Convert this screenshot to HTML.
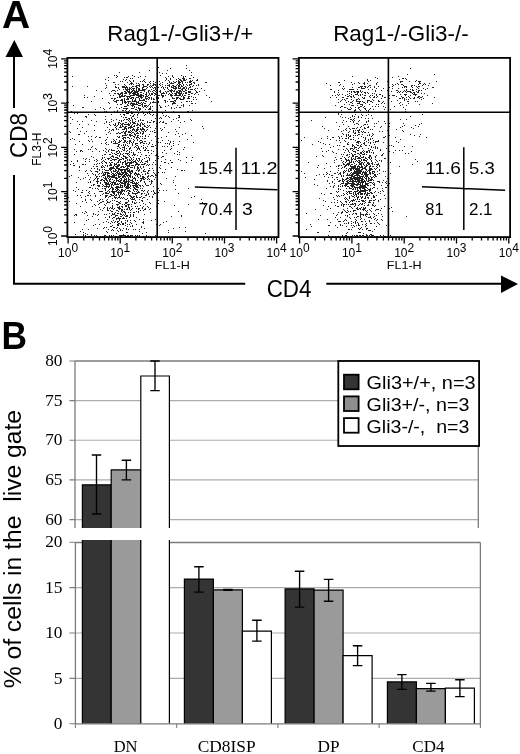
<!DOCTYPE html>
<html><head><meta charset="utf-8"><title>Figure</title>
<style>html,body{margin:0;padding:0;background:#fff;width:520px;height:754px;overflow:hidden}svg{display:block;will-change:transform}</style>
</head><body>
<svg width="520" height="754" viewBox="0 0 520 754">
<rect width="520" height="754" fill="#fff"/>
<path d="M68 102h1v1h-1zM68 197h1v1h-1zM69 131h1v1h-1zM69 176h1v1h-1zM69 201h1v1h-1zM70 117h1v1h-1zM70 123h1v1h-1zM70 132h1v1h-1zM70 139h1v1h-1zM70 164h1v1h-1zM71 111h1v1h-1zM71 161h1v1h-1zM71 175h1v1h-1zM72 76h1v1h-1zM72 86h1v1h-1zM72 119h1v1h-1zM72 138h1v1h-1zM73 105h1v1h-1zM73 163h1v1h-1zM73 165h1v1h-1zM73 190h1v1h-1zM74 113h1v1h-1zM74 139h1v1h-1zM74 149h1v1h-1zM74 154h1v1h-1zM74 165h1v1h-1zM74 215h1v1h-1zM74 222h1v1h-1zM75 144h1v1h-1zM75 191h1v1h-1zM75 214h1v1h-1zM75 234h1v1h-1zM76 151h1v1h-1zM76 182h1v1h-1zM76 187h1v1h-1zM76 203h1v1h-1zM76 214h1v1h-1zM76 215h1v1h-1zM77 113h1v1h-1zM77 121h1v1h-1zM77 128h1v1h-1zM77 160h1v1h-1zM77 161h1v1h-1zM77 195h1v1h-1zM78 134h1v1h-1zM78 177h1v1h-1zM78 189h1v1h-1zM79 124h1v1h-1zM79 134h1v1h-1zM79 141h1v1h-1zM79 166h1v1h-1zM79 167h1v1h-1zM79 170h1v1h-1zM80 131h1v1h-1zM80 150h1v1h-1zM80 151h1v1h-1zM80 179h1v1h-1zM80 195h1v1h-1zM80 206h1v1h-1zM80 231h1v1h-1zM81 150h1v1h-1zM81 192h1v1h-1zM81 197h1v1h-1zM82 107h1v1h-1zM82 121h1v1h-1zM82 127h1v1h-1zM82 144h1v1h-1zM82 151h1v1h-1zM82 164h1v1h-1zM82 190h1v1h-1zM82 192h1v1h-1zM82 201h1v1h-1zM82 212h1v1h-1zM82 229h1v1h-1zM83 107h1v1h-1zM83 158h1v1h-1zM83 164h1v1h-1zM83 178h1v1h-1zM83 232h1v1h-1zM83 234h1v1h-1zM83 235h1v1h-1zM84 95h1v1h-1zM84 97h1v1h-1zM84 133h1v1h-1zM84 213h1v1h-1zM84 224h1v1h-1zM85 116h1v1h-1zM85 159h1v1h-1zM85 161h1v1h-1zM85 164h1v1h-1zM85 171h1v1h-1zM85 177h1v1h-1zM85 196h1v1h-1zM85 199h1v1h-1zM85 200h1v1h-1zM85 211h1v1h-1zM85 233h1v1h-1zM85 235h1v1h-1zM85 236h1v1h-1zM86 116h1v1h-1zM86 117h1v1h-1zM86 131h1v1h-1zM86 158h1v1h-1zM86 170h1v1h-1zM86 190h1v1h-1zM86 202h1v1h-1zM86 212h1v1h-1zM86 220h1v1h-1zM87 86h1v1h-1zM87 97h1v1h-1zM87 173h1v1h-1zM87 195h1v1h-1zM87 215h1v1h-1zM87 234h1v1h-1zM88 114h1v1h-1zM88 124h1v1h-1zM88 136h1v1h-1zM88 140h1v1h-1zM88 149h1v1h-1zM88 175h1v1h-1zM88 182h1v1h-1zM88 192h1v1h-1zM88 195h1v1h-1zM88 219h1v1h-1zM88 229h1v1h-1zM88 236h1v1h-1zM89 141h1v1h-1zM89 159h1v1h-1zM89 161h1v1h-1zM89 179h1v1h-1zM89 187h1v1h-1zM89 191h1v1h-1zM89 193h1v1h-1zM89 236h1v1h-1zM90 149h1v1h-1zM90 170h1v1h-1zM90 177h1v1h-1zM90 181h1v1h-1zM90 182h1v1h-1zM90 187h1v1h-1zM90 195h1v1h-1zM90 199h1v1h-1zM91 101h1v1h-1zM91 120h1v1h-1zM91 136h1v1h-1zM91 139h1v1h-1zM91 147h1v1h-1zM91 156h1v1h-1zM91 168h1v1h-1zM91 171h1v1h-1zM91 185h1v1h-1zM91 200h1v1h-1zM91 234h1v1h-1zM91 235h1v1h-1zM92 141h1v1h-1zM92 146h1v1h-1zM92 151h1v1h-1zM92 173h1v1h-1zM92 188h1v1h-1zM92 206h1v1h-1zM92 216h1v1h-1zM93 157h1v1h-1zM93 166h1v1h-1zM93 174h1v1h-1zM93 180h1v1h-1zM93 184h1v1h-1zM93 185h1v1h-1zM93 213h1v1h-1zM93 214h1v1h-1zM93 225h1v1h-1zM94 96h1v1h-1zM94 114h1v1h-1zM94 125h1v1h-1zM94 130h1v1h-1zM94 160h1v1h-1zM94 164h1v1h-1zM94 168h1v1h-1zM94 179h1v1h-1zM94 184h1v1h-1zM94 193h1v1h-1zM94 204h1v1h-1zM94 235h1v1h-1zM95 109h1v1h-1zM95 115h1v1h-1zM95 137h1v1h-1zM95 148h1v1h-1zM95 171h1v1h-1zM95 174h1v1h-1zM95 175h1v1h-1zM95 178h1v1h-1zM95 188h1v1h-1zM95 195h1v1h-1zM95 196h1v1h-1zM95 205h1v1h-1zM95 214h1v1h-1zM95 224h1v1h-1zM96 90h1v1h-1zM96 121h1v1h-1zM96 136h1v1h-1zM96 149h1v1h-1zM96 159h1v1h-1zM96 161h1v1h-1zM96 164h1v1h-1zM96 166h1v1h-1zM96 171h1v1h-1zM96 176h1v1h-1zM96 177h1v1h-1zM96 181h1v1h-1zM96 235h1v1h-1zM97 160h1v1h-1zM97 163h1v1h-1zM97 166h1v1h-1zM97 168h1v1h-1zM97 169h1v1h-1zM97 171h1v1h-1zM97 172h1v1h-1zM97 176h1v1h-1zM97 178h1v1h-1zM97 179h1v1h-1zM97 180h1v1h-1zM97 181h1v1h-1zM97 182h1v1h-1zM97 183h1v1h-1zM97 185h1v1h-1zM97 188h1v1h-1zM97 201h1v1h-1zM97 215h1v1h-1zM97 228h1v1h-1zM97 236h1v1h-1zM98 174h1v1h-1zM98 178h1v1h-1zM98 181h1v1h-1zM98 185h1v1h-1zM98 186h1v1h-1zM98 189h1v1h-1zM98 204h1v1h-1zM98 211h1v1h-1zM98 214h1v1h-1zM98 219h1v1h-1zM99 137h1v1h-1zM99 151h1v1h-1zM99 163h1v1h-1zM99 169h1v1h-1zM99 170h1v1h-1zM99 173h1v1h-1zM99 176h1v1h-1zM99 185h1v1h-1zM99 186h1v1h-1zM99 191h1v1h-1zM99 200h1v1h-1zM99 203h1v1h-1zM99 207h1v1h-1zM99 224h1v1h-1zM100 107h1v1h-1zM100 137h1v1h-1zM100 180h1v1h-1zM100 182h1v1h-1zM100 183h1v1h-1zM100 191h1v1h-1zM100 195h1v1h-1zM100 199h1v1h-1zM100 202h1v1h-1zM100 209h1v1h-1zM100 236h1v1h-1zM101 91h1v1h-1zM101 143h1v1h-1zM101 159h1v1h-1zM101 162h1v1h-1zM101 166h1v1h-1zM101 167h1v1h-1zM101 173h1v1h-1zM101 176h1v1h-1zM101 179h1v1h-1zM101 180h1v1h-1zM101 191h1v1h-1zM101 202h1v1h-1zM102 98h1v1h-1zM102 155h1v1h-1zM102 157h1v1h-1zM102 158h1v1h-1zM102 161h1v1h-1zM102 163h1v1h-1zM102 165h1v1h-1zM102 167h1v1h-1zM102 169h1v1h-1zM102 171h1v1h-1zM102 172h1v1h-1zM102 175h1v1h-1zM102 179h1v1h-1zM102 184h1v1h-1zM102 186h1v1h-1zM102 188h1v1h-1zM102 191h1v1h-1zM102 194h1v1h-1zM102 199h1v1h-1zM102 201h1v1h-1zM102 210h1v1h-1zM102 236h1v1h-1zM103 108h1v1h-1zM103 150h1v1h-1zM103 160h1v1h-1zM103 166h1v1h-1zM103 173h1v1h-1zM103 174h1v1h-1zM103 175h1v1h-1zM103 177h1v1h-1zM103 180h1v1h-1zM103 185h1v1h-1zM103 193h1v1h-1zM103 201h1v1h-1zM103 208h1v1h-1zM103 222h1v1h-1zM103 228h1v1h-1zM104 109h1v1h-1zM104 111h1v1h-1zM104 123h1v1h-1zM104 154h1v1h-1zM104 157h1v1h-1zM104 161h1v1h-1zM104 167h1v1h-1zM104 169h1v1h-1zM104 172h1v1h-1zM104 174h1v1h-1zM104 175h1v1h-1zM104 178h1v1h-1zM104 180h1v1h-1zM104 181h1v1h-1zM104 182h1v1h-1zM104 186h1v1h-1zM104 188h1v1h-1zM104 204h1v1h-1zM104 207h1v1h-1zM104 214h1v1h-1zM104 227h1v1h-1zM104 235h1v1h-1zM104 236h1v1h-1zM105 79h1v1h-1zM105 83h1v1h-1zM105 88h1v1h-1zM105 116h1v1h-1zM105 119h1v1h-1zM105 130h1v1h-1zM105 140h1v1h-1zM105 143h1v1h-1zM105 148h1v1h-1zM105 151h1v1h-1zM105 154h1v1h-1zM105 159h1v1h-1zM105 162h1v1h-1zM105 165h1v1h-1zM105 170h1v1h-1zM105 172h1v1h-1zM105 173h1v1h-1zM105 174h1v1h-1zM105 176h1v1h-1zM105 177h1v1h-1zM105 178h1v1h-1zM105 179h1v1h-1zM105 182h1v1h-1zM105 183h1v1h-1zM105 184h1v1h-1zM105 186h1v1h-1zM105 188h1v1h-1zM105 189h1v1h-1zM105 190h1v1h-1zM105 192h1v1h-1zM105 193h1v1h-1zM105 195h1v1h-1zM105 196h1v1h-1zM105 197h1v1h-1zM105 205h1v1h-1zM105 217h1v1h-1zM105 235h1v1h-1zM106 85h1v1h-1zM106 87h1v1h-1zM106 111h1v1h-1zM106 121h1v1h-1zM106 122h1v1h-1zM106 134h1v1h-1zM106 139h1v1h-1zM106 142h1v1h-1zM106 144h1v1h-1zM106 149h1v1h-1zM106 152h1v1h-1zM106 162h1v1h-1zM106 163h1v1h-1zM106 170h1v1h-1zM106 172h1v1h-1zM106 178h1v1h-1zM106 179h1v1h-1zM106 180h1v1h-1zM106 182h1v1h-1zM106 183h1v1h-1zM106 184h1v1h-1zM106 185h1v1h-1zM106 186h1v1h-1zM106 187h1v1h-1zM106 192h1v1h-1zM106 193h1v1h-1zM106 195h1v1h-1zM106 196h1v1h-1zM106 200h1v1h-1zM106 203h1v1h-1zM106 214h1v1h-1zM106 221h1v1h-1zM106 227h1v1h-1zM106 231h1v1h-1zM106 236h1v1h-1zM107 127h1v1h-1zM107 137h1v1h-1zM107 158h1v1h-1zM107 165h1v1h-1zM107 166h1v1h-1zM107 170h1v1h-1zM107 172h1v1h-1zM107 173h1v1h-1zM107 174h1v1h-1zM107 175h1v1h-1zM107 176h1v1h-1zM107 177h1v1h-1zM107 180h1v1h-1zM107 181h1v1h-1zM107 183h1v1h-1zM107 184h1v1h-1zM107 186h1v1h-1zM107 191h1v1h-1zM107 193h1v1h-1zM107 195h1v1h-1zM107 199h1v1h-1zM107 201h1v1h-1zM107 202h1v1h-1zM107 207h1v1h-1zM107 208h1v1h-1zM107 209h1v1h-1zM107 210h1v1h-1zM107 219h1v1h-1zM107 232h1v1h-1zM108 77h1v1h-1zM108 80h1v1h-1zM108 102h1v1h-1zM108 132h1v1h-1zM108 144h1v1h-1zM108 150h1v1h-1zM108 151h1v1h-1zM108 158h1v1h-1zM108 159h1v1h-1zM108 170h1v1h-1zM108 172h1v1h-1zM108 173h1v1h-1zM108 175h1v1h-1zM108 176h1v1h-1zM108 178h1v1h-1zM108 182h1v1h-1zM108 183h1v1h-1zM108 184h1v1h-1zM108 186h1v1h-1zM108 187h1v1h-1zM108 190h1v1h-1zM108 193h1v1h-1zM108 197h1v1h-1zM108 202h1v1h-1zM108 210h1v1h-1zM108 222h1v1h-1zM108 229h1v1h-1zM109 93h1v1h-1zM109 103h1v1h-1zM109 108h1v1h-1zM109 122h1v1h-1zM109 124h1v1h-1zM109 129h1v1h-1zM109 131h1v1h-1zM109 149h1v1h-1zM109 154h1v1h-1zM109 158h1v1h-1zM109 162h1v1h-1zM109 165h1v1h-1zM109 168h1v1h-1zM109 169h1v1h-1zM109 173h1v1h-1zM109 175h1v1h-1zM109 176h1v1h-1zM109 177h1v1h-1zM109 179h1v1h-1zM109 180h1v1h-1zM109 181h1v1h-1zM109 184h1v1h-1zM109 185h1v1h-1zM109 186h1v1h-1zM109 189h1v1h-1zM109 191h1v1h-1zM109 192h1v1h-1zM109 196h1v1h-1zM109 202h1v1h-1zM109 208h1v1h-1zM109 213h1v1h-1zM109 216h1v1h-1zM109 217h1v1h-1zM109 235h1v1h-1zM109 236h1v1h-1zM110 95h1v1h-1zM110 107h1v1h-1zM110 112h1v1h-1zM110 125h1v1h-1zM110 133h1v1h-1zM110 154h1v1h-1zM110 157h1v1h-1zM110 160h1v1h-1zM110 163h1v1h-1zM110 164h1v1h-1zM110 165h1v1h-1zM110 167h1v1h-1zM110 168h1v1h-1zM110 169h1v1h-1zM110 170h1v1h-1zM110 176h1v1h-1zM110 178h1v1h-1zM110 179h1v1h-1zM110 181h1v1h-1zM110 183h1v1h-1zM110 188h1v1h-1zM110 194h1v1h-1zM110 196h1v1h-1zM110 201h1v1h-1zM110 207h1v1h-1zM110 210h1v1h-1zM110 223h1v1h-1zM110 226h1v1h-1zM111 91h1v1h-1zM111 98h1v1h-1zM111 114h1v1h-1zM111 119h1v1h-1zM111 121h1v1h-1zM111 130h1v1h-1zM111 141h1v1h-1zM111 142h1v1h-1zM111 149h1v1h-1zM111 150h1v1h-1zM111 152h1v1h-1zM111 156h1v1h-1zM111 158h1v1h-1zM111 160h1v1h-1zM111 162h1v1h-1zM111 164h1v1h-1zM111 165h1v1h-1zM111 167h1v1h-1zM111 168h1v1h-1zM111 169h1v1h-1zM111 171h1v1h-1zM111 172h1v1h-1zM111 174h1v1h-1zM111 176h1v1h-1zM111 177h1v1h-1zM111 182h1v1h-1zM111 184h1v1h-1zM111 185h1v1h-1zM111 186h1v1h-1zM111 187h1v1h-1zM111 191h1v1h-1zM111 194h1v1h-1zM111 195h1v1h-1zM111 208h1v1h-1zM111 211h1v1h-1zM111 215h1v1h-1zM111 221h1v1h-1zM111 226h1v1h-1zM111 230h1v1h-1zM111 235h1v1h-1zM111 236h1v1h-1zM112 90h1v1h-1zM112 98h1v1h-1zM112 129h1v1h-1zM112 150h1v1h-1zM112 153h1v1h-1zM112 155h1v1h-1zM112 156h1v1h-1zM112 159h1v1h-1zM112 162h1v1h-1zM112 167h1v1h-1zM112 168h1v1h-1zM112 173h1v1h-1zM112 175h1v1h-1zM112 176h1v1h-1zM112 177h1v1h-1zM112 179h1v1h-1zM112 182h1v1h-1zM112 183h1v1h-1zM112 184h1v1h-1zM112 187h1v1h-1zM112 188h1v1h-1zM112 189h1v1h-1zM112 190h1v1h-1zM112 191h1v1h-1zM112 192h1v1h-1zM112 195h1v1h-1zM112 198h1v1h-1zM112 200h1v1h-1zM112 203h1v1h-1zM112 205h1v1h-1zM112 206h1v1h-1zM112 207h1v1h-1zM112 208h1v1h-1zM112 211h1v1h-1zM112 213h1v1h-1zM112 214h1v1h-1zM112 218h1v1h-1zM112 222h1v1h-1zM112 225h1v1h-1zM112 229h1v1h-1zM113 82h1v1h-1zM113 90h1v1h-1zM113 95h1v1h-1zM113 100h1v1h-1zM113 120h1v1h-1zM113 124h1v1h-1zM113 129h1v1h-1zM113 130h1v1h-1zM113 139h1v1h-1zM113 141h1v1h-1zM113 143h1v1h-1zM113 150h1v1h-1zM113 156h1v1h-1zM113 157h1v1h-1zM113 159h1v1h-1zM113 166h1v1h-1zM113 167h1v1h-1zM113 168h1v1h-1zM113 170h1v1h-1zM113 171h1v1h-1zM113 173h1v1h-1zM113 174h1v1h-1zM113 175h1v1h-1zM113 176h1v1h-1zM113 177h1v1h-1zM113 181h1v1h-1zM113 182h1v1h-1zM113 185h1v1h-1zM113 188h1v1h-1zM113 189h1v1h-1zM113 191h1v1h-1zM113 192h1v1h-1zM113 193h1v1h-1zM113 195h1v1h-1zM113 209h1v1h-1zM113 214h1v1h-1zM113 217h1v1h-1zM113 220h1v1h-1zM113 227h1v1h-1zM113 230h1v1h-1zM113 235h1v1h-1zM114 75h1v1h-1zM114 82h1v1h-1zM114 90h1v1h-1zM114 93h1v1h-1zM114 98h1v1h-1zM114 99h1v1h-1zM114 101h1v1h-1zM114 111h1v1h-1zM114 125h1v1h-1zM114 140h1v1h-1zM114 143h1v1h-1zM114 150h1v1h-1zM114 153h1v1h-1zM114 159h1v1h-1zM114 160h1v1h-1zM114 163h1v1h-1zM114 164h1v1h-1zM114 165h1v1h-1zM114 168h1v1h-1zM114 171h1v1h-1zM114 174h1v1h-1zM114 175h1v1h-1zM114 176h1v1h-1zM114 177h1v1h-1zM114 180h1v1h-1zM114 182h1v1h-1zM114 183h1v1h-1zM114 184h1v1h-1zM114 191h1v1h-1zM114 192h1v1h-1zM114 193h1v1h-1zM114 194h1v1h-1zM114 196h1v1h-1zM114 197h1v1h-1zM114 200h1v1h-1zM114 208h1v1h-1zM114 213h1v1h-1zM114 214h1v1h-1zM114 217h1v1h-1zM114 222h1v1h-1zM114 227h1v1h-1zM115 84h1v1h-1zM115 86h1v1h-1zM115 87h1v1h-1zM115 91h1v1h-1zM115 93h1v1h-1zM115 98h1v1h-1zM115 101h1v1h-1zM115 123h1v1h-1zM115 124h1v1h-1zM115 125h1v1h-1zM115 127h1v1h-1zM115 141h1v1h-1zM115 142h1v1h-1zM115 143h1v1h-1zM115 154h1v1h-1zM115 157h1v1h-1zM115 159h1v1h-1zM115 164h1v1h-1zM115 166h1v1h-1zM115 169h1v1h-1zM115 170h1v1h-1zM115 171h1v1h-1zM115 173h1v1h-1zM115 175h1v1h-1zM115 177h1v1h-1zM115 178h1v1h-1zM115 182h1v1h-1zM115 183h1v1h-1zM115 184h1v1h-1zM115 187h1v1h-1zM115 189h1v1h-1zM115 191h1v1h-1zM115 195h1v1h-1zM115 197h1v1h-1zM115 198h1v1h-1zM115 212h1v1h-1zM115 215h1v1h-1zM115 216h1v1h-1zM115 221h1v1h-1zM115 236h1v1h-1zM116 75h1v1h-1zM116 77h1v1h-1zM116 87h1v1h-1zM116 100h1v1h-1zM116 101h1v1h-1zM116 102h1v1h-1zM116 107h1v1h-1zM116 112h1v1h-1zM116 119h1v1h-1zM116 126h1v1h-1zM116 128h1v1h-1zM116 129h1v1h-1zM116 133h1v1h-1zM116 139h1v1h-1zM116 143h1v1h-1zM116 151h1v1h-1zM116 152h1v1h-1zM116 154h1v1h-1zM116 157h1v1h-1zM116 159h1v1h-1zM116 163h1v1h-1zM116 164h1v1h-1zM116 166h1v1h-1zM116 167h1v1h-1zM116 168h1v1h-1zM116 170h1v1h-1zM116 172h1v1h-1zM116 174h1v1h-1zM116 175h1v1h-1zM116 177h1v1h-1zM116 178h1v1h-1zM116 179h1v1h-1zM116 180h1v1h-1zM116 181h1v1h-1zM116 184h1v1h-1zM116 186h1v1h-1zM116 187h1v1h-1zM116 188h1v1h-1zM116 190h1v1h-1zM116 191h1v1h-1zM116 194h1v1h-1zM116 195h1v1h-1zM116 197h1v1h-1zM116 201h1v1h-1zM116 204h1v1h-1zM116 210h1v1h-1zM116 215h1v1h-1zM116 218h1v1h-1zM116 219h1v1h-1zM116 228h1v1h-1zM116 233h1v1h-1zM116 236h1v1h-1zM117 76h1v1h-1zM117 90h1v1h-1zM117 93h1v1h-1zM117 97h1v1h-1zM117 100h1v1h-1zM117 104h1v1h-1zM117 110h1v1h-1zM117 111h1v1h-1zM117 125h1v1h-1zM117 133h1v1h-1zM117 136h1v1h-1zM117 143h1v1h-1zM117 146h1v1h-1zM117 148h1v1h-1zM117 151h1v1h-1zM117 153h1v1h-1zM117 155h1v1h-1zM117 157h1v1h-1zM117 158h1v1h-1zM117 162h1v1h-1zM117 165h1v1h-1zM117 166h1v1h-1zM117 167h1v1h-1zM117 168h1v1h-1zM117 171h1v1h-1zM117 172h1v1h-1zM117 173h1v1h-1zM117 178h1v1h-1zM117 180h1v1h-1zM117 183h1v1h-1zM117 184h1v1h-1zM117 186h1v1h-1zM117 187h1v1h-1zM117 188h1v1h-1zM117 189h1v1h-1zM117 190h1v1h-1zM117 192h1v1h-1zM117 198h1v1h-1zM117 201h1v1h-1zM117 204h1v1h-1zM117 205h1v1h-1zM117 207h1v1h-1zM117 210h1v1h-1zM117 213h1v1h-1zM117 215h1v1h-1zM117 218h1v1h-1zM117 221h1v1h-1zM117 222h1v1h-1zM117 224h1v1h-1zM117 225h1v1h-1zM117 227h1v1h-1zM117 230h1v1h-1zM118 84h1v1h-1zM118 87h1v1h-1zM118 88h1v1h-1zM118 93h1v1h-1zM118 94h1v1h-1zM118 100h1v1h-1zM118 112h1v1h-1zM118 122h1v1h-1zM118 123h1v1h-1zM118 124h1v1h-1zM118 129h1v1h-1zM118 132h1v1h-1zM118 137h1v1h-1zM118 142h1v1h-1zM118 144h1v1h-1zM118 145h1v1h-1zM118 146h1v1h-1zM118 150h1v1h-1zM118 153h1v1h-1zM118 158h1v1h-1zM118 160h1v1h-1zM118 161h1v1h-1zM118 162h1v1h-1zM118 164h1v1h-1zM118 165h1v1h-1zM118 166h1v1h-1zM118 168h1v1h-1zM118 169h1v1h-1zM118 170h1v1h-1zM118 171h1v1h-1zM118 173h1v1h-1zM118 174h1v1h-1zM118 175h1v1h-1zM118 176h1v1h-1zM118 177h1v1h-1zM118 180h1v1h-1zM118 181h1v1h-1zM118 184h1v1h-1zM118 186h1v1h-1zM118 187h1v1h-1zM118 189h1v1h-1zM118 191h1v1h-1zM118 192h1v1h-1zM118 193h1v1h-1zM118 194h1v1h-1zM118 197h1v1h-1zM118 202h1v1h-1zM118 204h1v1h-1zM118 207h1v1h-1zM118 208h1v1h-1zM118 211h1v1h-1zM118 213h1v1h-1zM118 217h1v1h-1zM118 218h1v1h-1zM118 221h1v1h-1zM118 223h1v1h-1zM118 224h1v1h-1zM118 225h1v1h-1zM118 231h1v1h-1zM118 236h1v1h-1zM119 72h1v1h-1zM119 89h1v1h-1zM119 94h1v1h-1zM119 95h1v1h-1zM119 96h1v1h-1zM119 97h1v1h-1zM119 108h1v1h-1zM119 112h1v1h-1zM119 120h1v1h-1zM119 122h1v1h-1zM119 127h1v1h-1zM119 133h1v1h-1zM119 136h1v1h-1zM119 137h1v1h-1zM119 140h1v1h-1zM119 141h1v1h-1zM119 142h1v1h-1zM119 144h1v1h-1zM119 147h1v1h-1zM119 151h1v1h-1zM119 152h1v1h-1zM119 155h1v1h-1zM119 156h1v1h-1zM119 159h1v1h-1zM119 160h1v1h-1zM119 164h1v1h-1zM119 165h1v1h-1zM119 168h1v1h-1zM119 169h1v1h-1zM119 172h1v1h-1zM119 173h1v1h-1zM119 174h1v1h-1zM119 176h1v1h-1zM119 177h1v1h-1zM119 179h1v1h-1zM119 181h1v1h-1zM119 183h1v1h-1zM119 187h1v1h-1zM119 190h1v1h-1zM119 192h1v1h-1zM119 195h1v1h-1zM119 196h1v1h-1zM119 197h1v1h-1zM119 202h1v1h-1zM119 203h1v1h-1zM119 206h1v1h-1zM119 207h1v1h-1zM119 208h1v1h-1zM119 209h1v1h-1zM119 218h1v1h-1zM119 219h1v1h-1zM119 220h1v1h-1zM119 223h1v1h-1zM119 228h1v1h-1zM119 235h1v1h-1zM120 81h1v1h-1zM120 93h1v1h-1zM120 94h1v1h-1zM120 96h1v1h-1zM120 97h1v1h-1zM120 100h1v1h-1zM120 104h1v1h-1zM120 114h1v1h-1zM120 123h1v1h-1zM120 125h1v1h-1zM120 126h1v1h-1zM120 127h1v1h-1zM120 133h1v1h-1zM120 141h1v1h-1zM120 148h1v1h-1zM120 153h1v1h-1zM120 154h1v1h-1zM120 159h1v1h-1zM120 161h1v1h-1zM120 162h1v1h-1zM120 167h1v1h-1zM120 169h1v1h-1zM120 170h1v1h-1zM120 173h1v1h-1zM120 174h1v1h-1zM120 176h1v1h-1zM120 178h1v1h-1zM120 180h1v1h-1zM120 181h1v1h-1zM120 182h1v1h-1zM120 184h1v1h-1zM120 185h1v1h-1zM120 186h1v1h-1zM120 187h1v1h-1zM120 191h1v1h-1zM120 192h1v1h-1zM120 193h1v1h-1zM120 194h1v1h-1zM120 198h1v1h-1zM120 201h1v1h-1zM120 203h1v1h-1zM120 208h1v1h-1zM120 213h1v1h-1zM120 214h1v1h-1zM120 216h1v1h-1zM120 218h1v1h-1zM120 224h1v1h-1zM120 229h1v1h-1zM120 230h1v1h-1zM120 235h1v1h-1zM120 236h1v1h-1zM121 92h1v1h-1zM121 93h1v1h-1zM121 95h1v1h-1zM121 96h1v1h-1zM121 99h1v1h-1zM121 100h1v1h-1zM121 104h1v1h-1zM121 107h1v1h-1zM121 116h1v1h-1zM121 120h1v1h-1zM121 121h1v1h-1zM121 124h1v1h-1zM121 127h1v1h-1zM121 132h1v1h-1zM121 140h1v1h-1zM121 145h1v1h-1zM121 151h1v1h-1zM121 157h1v1h-1zM121 159h1v1h-1zM121 166h1v1h-1zM121 167h1v1h-1zM121 169h1v1h-1zM121 170h1v1h-1zM121 171h1v1h-1zM121 172h1v1h-1zM121 174h1v1h-1zM121 175h1v1h-1zM121 178h1v1h-1zM121 179h1v1h-1zM121 180h1v1h-1zM121 182h1v1h-1zM121 183h1v1h-1zM121 185h1v1h-1zM121 187h1v1h-1zM121 189h1v1h-1zM121 190h1v1h-1zM121 191h1v1h-1zM121 192h1v1h-1zM121 193h1v1h-1zM121 197h1v1h-1zM121 206h1v1h-1zM121 209h1v1h-1zM121 210h1v1h-1zM121 211h1v1h-1zM121 214h1v1h-1zM121 216h1v1h-1zM121 221h1v1h-1zM121 222h1v1h-1zM121 235h1v1h-1zM121 236h1v1h-1zM122 81h1v1h-1zM122 86h1v1h-1zM122 87h1v1h-1zM122 92h1v1h-1zM122 93h1v1h-1zM122 94h1v1h-1zM122 95h1v1h-1zM122 96h1v1h-1zM122 99h1v1h-1zM122 100h1v1h-1zM122 101h1v1h-1zM122 102h1v1h-1zM122 103h1v1h-1zM122 110h1v1h-1zM122 123h1v1h-1zM122 124h1v1h-1zM122 125h1v1h-1zM122 126h1v1h-1zM122 129h1v1h-1zM122 132h1v1h-1zM122 135h1v1h-1zM122 136h1v1h-1zM122 138h1v1h-1zM122 147h1v1h-1zM122 149h1v1h-1zM122 154h1v1h-1zM122 158h1v1h-1zM122 162h1v1h-1zM122 163h1v1h-1zM122 164h1v1h-1zM122 166h1v1h-1zM122 169h1v1h-1zM122 170h1v1h-1zM122 172h1v1h-1zM122 173h1v1h-1zM122 174h1v1h-1zM122 176h1v1h-1zM122 177h1v1h-1zM122 182h1v1h-1zM122 183h1v1h-1zM122 185h1v1h-1zM122 186h1v1h-1zM122 187h1v1h-1zM122 189h1v1h-1zM122 190h1v1h-1zM122 191h1v1h-1zM122 194h1v1h-1zM122 198h1v1h-1zM122 204h1v1h-1zM122 206h1v1h-1zM122 207h1v1h-1zM122 209h1v1h-1zM122 210h1v1h-1zM122 212h1v1h-1zM122 215h1v1h-1zM122 218h1v1h-1zM122 223h1v1h-1zM122 224h1v1h-1zM122 230h1v1h-1zM122 235h1v1h-1zM123 79h1v1h-1zM123 86h1v1h-1zM123 87h1v1h-1zM123 89h1v1h-1zM123 96h1v1h-1zM123 108h1v1h-1zM123 110h1v1h-1zM123 114h1v1h-1zM123 117h1v1h-1zM123 120h1v1h-1zM123 123h1v1h-1zM123 126h1v1h-1zM123 129h1v1h-1zM123 131h1v1h-1zM123 135h1v1h-1zM123 137h1v1h-1zM123 138h1v1h-1zM123 139h1v1h-1zM123 142h1v1h-1zM123 144h1v1h-1zM123 145h1v1h-1zM123 147h1v1h-1zM123 150h1v1h-1zM123 153h1v1h-1zM123 155h1v1h-1zM123 156h1v1h-1zM123 158h1v1h-1zM123 159h1v1h-1zM123 162h1v1h-1zM123 166h1v1h-1zM123 167h1v1h-1zM123 169h1v1h-1zM123 172h1v1h-1zM123 173h1v1h-1zM123 175h1v1h-1zM123 176h1v1h-1zM123 177h1v1h-1zM123 180h1v1h-1zM123 181h1v1h-1zM123 183h1v1h-1zM123 190h1v1h-1zM123 193h1v1h-1zM123 197h1v1h-1zM123 211h1v1h-1zM123 214h1v1h-1zM123 217h1v1h-1zM123 218h1v1h-1zM123 223h1v1h-1zM123 224h1v1h-1zM123 228h1v1h-1zM123 234h1v1h-1zM123 235h1v1h-1zM124 77h1v1h-1zM124 84h1v1h-1zM124 86h1v1h-1zM124 87h1v1h-1zM124 91h1v1h-1zM124 93h1v1h-1zM124 95h1v1h-1zM124 96h1v1h-1zM124 98h1v1h-1zM124 99h1v1h-1zM124 100h1v1h-1zM124 101h1v1h-1zM124 102h1v1h-1zM124 106h1v1h-1zM124 108h1v1h-1zM124 114h1v1h-1zM124 115h1v1h-1zM124 119h1v1h-1zM124 124h1v1h-1zM124 127h1v1h-1zM124 128h1v1h-1zM124 129h1v1h-1zM124 132h1v1h-1zM124 133h1v1h-1zM124 135h1v1h-1zM124 137h1v1h-1zM124 140h1v1h-1zM124 141h1v1h-1zM124 142h1v1h-1zM124 146h1v1h-1zM124 147h1v1h-1zM124 148h1v1h-1zM124 149h1v1h-1zM124 150h1v1h-1zM124 156h1v1h-1zM124 161h1v1h-1zM124 167h1v1h-1zM124 169h1v1h-1zM124 170h1v1h-1zM124 171h1v1h-1zM124 172h1v1h-1zM124 174h1v1h-1zM124 175h1v1h-1zM124 176h1v1h-1zM124 178h1v1h-1zM124 179h1v1h-1zM124 180h1v1h-1zM124 181h1v1h-1zM124 182h1v1h-1zM124 183h1v1h-1zM124 184h1v1h-1zM124 185h1v1h-1zM124 186h1v1h-1zM124 190h1v1h-1zM124 191h1v1h-1zM124 194h1v1h-1zM124 198h1v1h-1zM124 204h1v1h-1zM124 209h1v1h-1zM124 211h1v1h-1zM124 212h1v1h-1zM124 215h1v1h-1zM124 218h1v1h-1zM124 235h1v1h-1zM125 80h1v1h-1zM125 85h1v1h-1zM125 87h1v1h-1zM125 88h1v1h-1zM125 89h1v1h-1zM125 91h1v1h-1zM125 92h1v1h-1zM125 93h1v1h-1zM125 95h1v1h-1zM125 101h1v1h-1zM125 102h1v1h-1zM125 103h1v1h-1zM125 106h1v1h-1zM125 108h1v1h-1zM125 110h1v1h-1zM125 117h1v1h-1zM125 122h1v1h-1zM125 124h1v1h-1zM125 126h1v1h-1zM125 127h1v1h-1zM125 128h1v1h-1zM125 131h1v1h-1zM125 132h1v1h-1zM125 133h1v1h-1zM125 134h1v1h-1zM125 135h1v1h-1zM125 137h1v1h-1zM125 138h1v1h-1zM125 140h1v1h-1zM125 141h1v1h-1zM125 144h1v1h-1zM125 145h1v1h-1zM125 153h1v1h-1zM125 156h1v1h-1zM125 157h1v1h-1zM125 158h1v1h-1zM125 160h1v1h-1zM125 161h1v1h-1zM125 162h1v1h-1zM125 163h1v1h-1zM125 164h1v1h-1zM125 166h1v1h-1zM125 169h1v1h-1zM125 170h1v1h-1zM125 171h1v1h-1zM125 172h1v1h-1zM125 173h1v1h-1zM125 174h1v1h-1zM125 176h1v1h-1zM125 177h1v1h-1zM125 179h1v1h-1zM125 181h1v1h-1zM125 182h1v1h-1zM125 183h1v1h-1zM125 184h1v1h-1zM125 185h1v1h-1zM125 187h1v1h-1zM125 189h1v1h-1zM125 199h1v1h-1zM125 202h1v1h-1zM125 203h1v1h-1zM125 205h1v1h-1zM125 206h1v1h-1zM125 212h1v1h-1zM125 213h1v1h-1zM125 214h1v1h-1zM125 216h1v1h-1zM125 220h1v1h-1zM125 222h1v1h-1zM125 223h1v1h-1zM125 225h1v1h-1zM125 235h1v1h-1zM125 236h1v1h-1zM126 77h1v1h-1zM126 79h1v1h-1zM126 86h1v1h-1zM126 87h1v1h-1zM126 89h1v1h-1zM126 90h1v1h-1zM126 92h1v1h-1zM126 93h1v1h-1zM126 96h1v1h-1zM126 99h1v1h-1zM126 102h1v1h-1zM126 106h1v1h-1zM126 108h1v1h-1zM126 109h1v1h-1zM126 111h1v1h-1zM126 113h1v1h-1zM126 117h1v1h-1zM126 119h1v1h-1zM126 122h1v1h-1zM126 124h1v1h-1zM126 126h1v1h-1zM126 128h1v1h-1zM126 129h1v1h-1zM126 130h1v1h-1zM126 131h1v1h-1zM126 135h1v1h-1zM126 142h1v1h-1zM126 148h1v1h-1zM126 151h1v1h-1zM126 153h1v1h-1zM126 157h1v1h-1zM126 158h1v1h-1zM126 163h1v1h-1zM126 164h1v1h-1zM126 165h1v1h-1zM126 168h1v1h-1zM126 169h1v1h-1zM126 172h1v1h-1zM126 173h1v1h-1zM126 174h1v1h-1zM126 175h1v1h-1zM126 178h1v1h-1zM126 179h1v1h-1zM126 180h1v1h-1zM126 181h1v1h-1zM126 182h1v1h-1zM126 186h1v1h-1zM126 187h1v1h-1zM126 188h1v1h-1zM126 191h1v1h-1zM126 199h1v1h-1zM126 202h1v1h-1zM126 203h1v1h-1zM126 205h1v1h-1zM126 206h1v1h-1zM126 209h1v1h-1zM126 215h1v1h-1zM126 216h1v1h-1zM126 218h1v1h-1zM126 228h1v1h-1zM126 229h1v1h-1zM126 232h1v1h-1zM126 236h1v1h-1zM127 77h1v1h-1zM127 82h1v1h-1zM127 87h1v1h-1zM127 88h1v1h-1zM127 89h1v1h-1zM127 90h1v1h-1zM127 91h1v1h-1zM127 96h1v1h-1zM127 97h1v1h-1zM127 98h1v1h-1zM127 99h1v1h-1zM127 101h1v1h-1zM127 104h1v1h-1zM127 105h1v1h-1zM127 108h1v1h-1zM127 112h1v1h-1zM127 113h1v1h-1zM127 119h1v1h-1zM127 124h1v1h-1zM127 134h1v1h-1zM127 137h1v1h-1zM127 141h1v1h-1zM127 143h1v1h-1zM127 145h1v1h-1zM127 150h1v1h-1zM127 153h1v1h-1zM127 154h1v1h-1zM127 157h1v1h-1zM127 159h1v1h-1zM127 160h1v1h-1zM127 162h1v1h-1zM127 163h1v1h-1zM127 165h1v1h-1zM127 166h1v1h-1zM127 167h1v1h-1zM127 168h1v1h-1zM127 169h1v1h-1zM127 170h1v1h-1zM127 171h1v1h-1zM127 173h1v1h-1zM127 175h1v1h-1zM127 176h1v1h-1zM127 181h1v1h-1zM127 183h1v1h-1zM127 184h1v1h-1zM127 185h1v1h-1zM127 186h1v1h-1zM127 187h1v1h-1zM127 188h1v1h-1zM127 190h1v1h-1zM127 195h1v1h-1zM127 198h1v1h-1zM127 202h1v1h-1zM127 204h1v1h-1zM127 208h1v1h-1zM127 209h1v1h-1zM127 215h1v1h-1zM127 216h1v1h-1zM127 220h1v1h-1zM127 221h1v1h-1zM127 224h1v1h-1zM127 226h1v1h-1zM127 232h1v1h-1zM127 235h1v1h-1zM127 236h1v1h-1zM128 76h1v1h-1zM128 89h1v1h-1zM128 91h1v1h-1zM128 92h1v1h-1zM128 96h1v1h-1zM128 98h1v1h-1zM128 99h1v1h-1zM128 101h1v1h-1zM128 102h1v1h-1zM128 103h1v1h-1zM128 105h1v1h-1zM128 111h1v1h-1zM128 113h1v1h-1zM128 118h1v1h-1zM128 120h1v1h-1zM128 123h1v1h-1zM128 124h1v1h-1zM128 125h1v1h-1zM128 127h1v1h-1zM128 128h1v1h-1zM128 131h1v1h-1zM128 132h1v1h-1zM128 137h1v1h-1zM128 146h1v1h-1zM128 153h1v1h-1zM128 155h1v1h-1zM128 162h1v1h-1zM128 165h1v1h-1zM128 166h1v1h-1zM128 168h1v1h-1zM128 170h1v1h-1zM128 171h1v1h-1zM128 174h1v1h-1zM128 175h1v1h-1zM128 177h1v1h-1zM128 178h1v1h-1zM128 179h1v1h-1zM128 180h1v1h-1zM128 181h1v1h-1zM128 182h1v1h-1zM128 183h1v1h-1zM128 184h1v1h-1zM128 185h1v1h-1zM128 186h1v1h-1zM128 187h1v1h-1zM128 188h1v1h-1zM128 190h1v1h-1zM128 192h1v1h-1zM128 193h1v1h-1zM128 194h1v1h-1zM128 200h1v1h-1zM128 201h1v1h-1zM128 204h1v1h-1zM128 205h1v1h-1zM128 206h1v1h-1zM128 207h1v1h-1zM128 212h1v1h-1zM128 229h1v1h-1zM128 235h1v1h-1zM128 236h1v1h-1zM129 80h1v1h-1zM129 84h1v1h-1zM129 87h1v1h-1zM129 88h1v1h-1zM129 89h1v1h-1zM129 90h1v1h-1zM129 91h1v1h-1zM129 92h1v1h-1zM129 93h1v1h-1zM129 94h1v1h-1zM129 96h1v1h-1zM129 97h1v1h-1zM129 101h1v1h-1zM129 110h1v1h-1zM129 118h1v1h-1zM129 119h1v1h-1zM129 121h1v1h-1zM129 124h1v1h-1zM129 125h1v1h-1zM129 127h1v1h-1zM129 131h1v1h-1zM129 132h1v1h-1zM129 134h1v1h-1zM129 135h1v1h-1zM129 138h1v1h-1zM129 140h1v1h-1zM129 141h1v1h-1zM129 142h1v1h-1zM129 143h1v1h-1zM129 148h1v1h-1zM129 149h1v1h-1zM129 151h1v1h-1zM129 152h1v1h-1zM129 154h1v1h-1zM129 156h1v1h-1zM129 159h1v1h-1zM129 160h1v1h-1zM129 162h1v1h-1zM129 163h1v1h-1zM129 164h1v1h-1zM129 165h1v1h-1zM129 166h1v1h-1zM129 169h1v1h-1zM129 170h1v1h-1zM129 171h1v1h-1zM129 172h1v1h-1zM129 175h1v1h-1zM129 176h1v1h-1zM129 179h1v1h-1zM129 181h1v1h-1zM129 184h1v1h-1zM129 187h1v1h-1zM129 190h1v1h-1zM129 191h1v1h-1zM129 193h1v1h-1zM129 195h1v1h-1zM129 204h1v1h-1zM129 207h1v1h-1zM129 208h1v1h-1zM129 209h1v1h-1zM129 217h1v1h-1zM129 224h1v1h-1zM129 236h1v1h-1zM130 78h1v1h-1zM130 81h1v1h-1zM130 83h1v1h-1zM130 88h1v1h-1zM130 92h1v1h-1zM130 93h1v1h-1zM130 95h1v1h-1zM130 96h1v1h-1zM130 98h1v1h-1zM130 101h1v1h-1zM130 103h1v1h-1zM130 104h1v1h-1zM130 115h1v1h-1zM130 120h1v1h-1zM130 122h1v1h-1zM130 123h1v1h-1zM130 126h1v1h-1zM130 127h1v1h-1zM130 128h1v1h-1zM130 130h1v1h-1zM130 132h1v1h-1zM130 134h1v1h-1zM130 135h1v1h-1zM130 136h1v1h-1zM130 140h1v1h-1zM130 141h1v1h-1zM130 147h1v1h-1zM130 148h1v1h-1zM130 157h1v1h-1zM130 160h1v1h-1zM130 162h1v1h-1zM130 163h1v1h-1zM130 167h1v1h-1zM130 171h1v1h-1zM130 172h1v1h-1zM130 173h1v1h-1zM130 174h1v1h-1zM130 175h1v1h-1zM130 176h1v1h-1zM130 177h1v1h-1zM130 180h1v1h-1zM130 182h1v1h-1zM130 185h1v1h-1zM130 186h1v1h-1zM130 188h1v1h-1zM130 191h1v1h-1zM130 195h1v1h-1zM130 196h1v1h-1zM130 198h1v1h-1zM130 210h1v1h-1zM130 212h1v1h-1zM130 214h1v1h-1zM130 215h1v1h-1zM130 216h1v1h-1zM130 220h1v1h-1zM130 222h1v1h-1zM130 226h1v1h-1zM130 235h1v1h-1zM130 236h1v1h-1zM131 82h1v1h-1zM131 83h1v1h-1zM131 84h1v1h-1zM131 87h1v1h-1zM131 89h1v1h-1zM131 91h1v1h-1zM131 92h1v1h-1zM131 95h1v1h-1zM131 97h1v1h-1zM131 98h1v1h-1zM131 102h1v1h-1zM131 103h1v1h-1zM131 105h1v1h-1zM131 108h1v1h-1zM131 111h1v1h-1zM131 113h1v1h-1zM131 117h1v1h-1zM131 118h1v1h-1zM131 125h1v1h-1zM131 126h1v1h-1zM131 127h1v1h-1zM131 131h1v1h-1zM131 133h1v1h-1zM131 135h1v1h-1zM131 138h1v1h-1zM131 142h1v1h-1zM131 150h1v1h-1zM131 152h1v1h-1zM131 158h1v1h-1zM131 159h1v1h-1zM131 161h1v1h-1zM131 162h1v1h-1zM131 163h1v1h-1zM131 165h1v1h-1zM131 167h1v1h-1zM131 170h1v1h-1zM131 171h1v1h-1zM131 173h1v1h-1zM131 180h1v1h-1zM131 182h1v1h-1zM131 196h1v1h-1zM131 197h1v1h-1zM131 199h1v1h-1zM131 204h1v1h-1zM131 206h1v1h-1zM131 209h1v1h-1zM131 223h1v1h-1zM131 235h1v1h-1zM132 75h1v1h-1zM132 78h1v1h-1zM132 83h1v1h-1zM132 86h1v1h-1zM132 88h1v1h-1zM132 90h1v1h-1zM132 91h1v1h-1zM132 93h1v1h-1zM132 95h1v1h-1zM132 97h1v1h-1zM132 99h1v1h-1zM132 100h1v1h-1zM132 101h1v1h-1zM132 103h1v1h-1zM132 104h1v1h-1zM132 105h1v1h-1zM132 106h1v1h-1zM132 108h1v1h-1zM132 112h1v1h-1zM132 113h1v1h-1zM132 116h1v1h-1zM132 119h1v1h-1zM132 120h1v1h-1zM132 121h1v1h-1zM132 122h1v1h-1zM132 124h1v1h-1zM132 127h1v1h-1zM132 129h1v1h-1zM132 130h1v1h-1zM132 132h1v1h-1zM132 135h1v1h-1zM132 143h1v1h-1zM132 144h1v1h-1zM132 145h1v1h-1zM132 155h1v1h-1zM132 160h1v1h-1zM132 162h1v1h-1zM132 165h1v1h-1zM132 167h1v1h-1zM132 170h1v1h-1zM132 171h1v1h-1zM132 172h1v1h-1zM132 176h1v1h-1zM132 177h1v1h-1zM132 179h1v1h-1zM132 180h1v1h-1zM132 181h1v1h-1zM132 182h1v1h-1zM132 183h1v1h-1zM132 185h1v1h-1zM132 192h1v1h-1zM132 193h1v1h-1zM132 197h1v1h-1zM132 198h1v1h-1zM132 199h1v1h-1zM132 201h1v1h-1zM132 202h1v1h-1zM132 208h1v1h-1zM132 225h1v1h-1zM132 226h1v1h-1zM132 235h1v1h-1zM133 80h1v1h-1zM133 81h1v1h-1zM133 84h1v1h-1zM133 86h1v1h-1zM133 88h1v1h-1zM133 89h1v1h-1zM133 90h1v1h-1zM133 92h1v1h-1zM133 93h1v1h-1zM133 94h1v1h-1zM133 95h1v1h-1zM133 97h1v1h-1zM133 98h1v1h-1zM133 101h1v1h-1zM133 103h1v1h-1zM133 104h1v1h-1zM133 105h1v1h-1zM133 108h1v1h-1zM133 112h1v1h-1zM133 115h1v1h-1zM133 116h1v1h-1zM133 122h1v1h-1zM133 123h1v1h-1zM133 126h1v1h-1zM133 128h1v1h-1zM133 129h1v1h-1zM133 132h1v1h-1zM133 136h1v1h-1zM133 139h1v1h-1zM133 141h1v1h-1zM133 142h1v1h-1zM133 152h1v1h-1zM133 153h1v1h-1zM133 154h1v1h-1zM133 157h1v1h-1zM133 159h1v1h-1zM133 161h1v1h-1zM133 162h1v1h-1zM133 165h1v1h-1zM133 178h1v1h-1zM133 181h1v1h-1zM133 183h1v1h-1zM133 185h1v1h-1zM133 186h1v1h-1zM133 187h1v1h-1zM133 189h1v1h-1zM133 190h1v1h-1zM133 193h1v1h-1zM133 196h1v1h-1zM133 197h1v1h-1zM133 199h1v1h-1zM133 212h1v1h-1zM133 214h1v1h-1zM133 215h1v1h-1zM133 216h1v1h-1zM133 229h1v1h-1zM134 76h1v1h-1zM134 88h1v1h-1zM134 90h1v1h-1zM134 91h1v1h-1zM134 92h1v1h-1zM134 93h1v1h-1zM134 94h1v1h-1zM134 95h1v1h-1zM134 100h1v1h-1zM134 101h1v1h-1zM134 103h1v1h-1zM134 104h1v1h-1zM134 106h1v1h-1zM134 107h1v1h-1zM134 114h1v1h-1zM134 118h1v1h-1zM134 122h1v1h-1zM134 123h1v1h-1zM134 125h1v1h-1zM134 126h1v1h-1zM134 129h1v1h-1zM134 130h1v1h-1zM134 133h1v1h-1zM134 134h1v1h-1zM134 136h1v1h-1zM134 137h1v1h-1zM134 140h1v1h-1zM134 147h1v1h-1zM134 154h1v1h-1zM134 155h1v1h-1zM134 161h1v1h-1zM134 166h1v1h-1zM134 167h1v1h-1zM134 168h1v1h-1zM134 173h1v1h-1zM134 174h1v1h-1zM134 177h1v1h-1zM134 178h1v1h-1zM134 182h1v1h-1zM134 183h1v1h-1zM134 185h1v1h-1zM134 187h1v1h-1zM134 188h1v1h-1zM134 191h1v1h-1zM134 193h1v1h-1zM134 196h1v1h-1zM134 198h1v1h-1zM134 199h1v1h-1zM134 202h1v1h-1zM134 203h1v1h-1zM134 212h1v1h-1zM134 220h1v1h-1zM135 86h1v1h-1zM135 91h1v1h-1zM135 92h1v1h-1zM135 93h1v1h-1zM135 94h1v1h-1zM135 98h1v1h-1zM135 99h1v1h-1zM135 100h1v1h-1zM135 101h1v1h-1zM135 104h1v1h-1zM135 109h1v1h-1zM135 119h1v1h-1zM135 121h1v1h-1zM135 123h1v1h-1zM135 131h1v1h-1zM135 134h1v1h-1zM135 135h1v1h-1zM135 143h1v1h-1zM135 144h1v1h-1zM135 146h1v1h-1zM135 154h1v1h-1zM135 160h1v1h-1zM135 161h1v1h-1zM135 162h1v1h-1zM135 164h1v1h-1zM135 165h1v1h-1zM135 172h1v1h-1zM135 173h1v1h-1zM135 175h1v1h-1zM135 178h1v1h-1zM135 179h1v1h-1zM135 180h1v1h-1zM135 183h1v1h-1zM135 184h1v1h-1zM135 185h1v1h-1zM135 186h1v1h-1zM135 188h1v1h-1zM135 189h1v1h-1zM135 193h1v1h-1zM135 194h1v1h-1zM135 200h1v1h-1zM135 203h1v1h-1zM135 206h1v1h-1zM135 221h1v1h-1zM135 229h1v1h-1zM135 235h1v1h-1zM136 83h1v1h-1zM136 85h1v1h-1zM136 86h1v1h-1zM136 87h1v1h-1zM136 88h1v1h-1zM136 89h1v1h-1zM136 90h1v1h-1zM136 91h1v1h-1zM136 92h1v1h-1zM136 94h1v1h-1zM136 95h1v1h-1zM136 97h1v1h-1zM136 101h1v1h-1zM136 102h1v1h-1zM136 103h1v1h-1zM136 104h1v1h-1zM136 107h1v1h-1zM136 109h1v1h-1zM136 125h1v1h-1zM136 129h1v1h-1zM136 130h1v1h-1zM136 131h1v1h-1zM136 133h1v1h-1zM136 137h1v1h-1zM136 138h1v1h-1zM136 143h1v1h-1zM136 145h1v1h-1zM136 147h1v1h-1zM136 150h1v1h-1zM136 158h1v1h-1zM136 159h1v1h-1zM136 162h1v1h-1zM136 163h1v1h-1zM136 164h1v1h-1zM136 170h1v1h-1zM136 173h1v1h-1zM136 174h1v1h-1zM136 182h1v1h-1zM136 183h1v1h-1zM136 184h1v1h-1zM136 185h1v1h-1zM136 186h1v1h-1zM136 187h1v1h-1zM136 189h1v1h-1zM136 191h1v1h-1zM136 193h1v1h-1zM136 195h1v1h-1zM136 196h1v1h-1zM136 197h1v1h-1zM136 202h1v1h-1zM136 208h1v1h-1zM136 211h1v1h-1zM136 217h1v1h-1zM136 224h1v1h-1zM136 236h1v1h-1zM137 85h1v1h-1zM137 87h1v1h-1zM137 91h1v1h-1zM137 92h1v1h-1zM137 93h1v1h-1zM137 94h1v1h-1zM137 95h1v1h-1zM137 97h1v1h-1zM137 102h1v1h-1zM137 104h1v1h-1zM137 110h1v1h-1zM137 114h1v1h-1zM137 115h1v1h-1zM137 117h1v1h-1zM137 123h1v1h-1zM137 124h1v1h-1zM137 125h1v1h-1zM137 127h1v1h-1zM137 128h1v1h-1zM137 129h1v1h-1zM137 130h1v1h-1zM137 132h1v1h-1zM137 133h1v1h-1zM137 135h1v1h-1zM137 136h1v1h-1zM137 137h1v1h-1zM137 139h1v1h-1zM137 140h1v1h-1zM137 143h1v1h-1zM137 145h1v1h-1zM137 148h1v1h-1zM137 149h1v1h-1zM137 155h1v1h-1zM137 160h1v1h-1zM137 163h1v1h-1zM137 164h1v1h-1zM137 166h1v1h-1zM137 167h1v1h-1zM137 168h1v1h-1zM137 169h1v1h-1zM137 174h1v1h-1zM137 175h1v1h-1zM137 176h1v1h-1zM137 180h1v1h-1zM137 183h1v1h-1zM137 185h1v1h-1zM137 186h1v1h-1zM137 187h1v1h-1zM137 189h1v1h-1zM137 190h1v1h-1zM137 192h1v1h-1zM137 193h1v1h-1zM137 197h1v1h-1zM137 206h1v1h-1zM137 235h1v1h-1zM137 236h1v1h-1zM138 77h1v1h-1zM138 83h1v1h-1zM138 85h1v1h-1zM138 88h1v1h-1zM138 89h1v1h-1zM138 90h1v1h-1zM138 91h1v1h-1zM138 93h1v1h-1zM138 94h1v1h-1zM138 95h1v1h-1zM138 96h1v1h-1zM138 97h1v1h-1zM138 101h1v1h-1zM138 102h1v1h-1zM138 103h1v1h-1zM138 105h1v1h-1zM138 107h1v1h-1zM138 108h1v1h-1zM138 113h1v1h-1zM138 120h1v1h-1zM138 121h1v1h-1zM138 124h1v1h-1zM138 127h1v1h-1zM138 129h1v1h-1zM138 133h1v1h-1zM138 135h1v1h-1zM138 137h1v1h-1zM138 146h1v1h-1zM138 147h1v1h-1zM138 148h1v1h-1zM138 152h1v1h-1zM138 158h1v1h-1zM138 161h1v1h-1zM138 164h1v1h-1zM138 165h1v1h-1zM138 167h1v1h-1zM138 168h1v1h-1zM138 170h1v1h-1zM138 171h1v1h-1zM138 173h1v1h-1zM138 174h1v1h-1zM138 177h1v1h-1zM138 182h1v1h-1zM138 184h1v1h-1zM138 187h1v1h-1zM138 191h1v1h-1zM138 192h1v1h-1zM138 208h1v1h-1zM138 209h1v1h-1zM138 211h1v1h-1zM138 212h1v1h-1zM139 72h1v1h-1zM139 84h1v1h-1zM139 85h1v1h-1zM139 86h1v1h-1zM139 88h1v1h-1zM139 89h1v1h-1zM139 90h1v1h-1zM139 95h1v1h-1zM139 96h1v1h-1zM139 98h1v1h-1zM139 99h1v1h-1zM139 100h1v1h-1zM139 103h1v1h-1zM139 105h1v1h-1zM139 108h1v1h-1zM139 109h1v1h-1zM139 110h1v1h-1zM139 112h1v1h-1zM139 125h1v1h-1zM139 131h1v1h-1zM139 138h1v1h-1zM139 141h1v1h-1zM139 148h1v1h-1zM139 149h1v1h-1zM139 158h1v1h-1zM139 159h1v1h-1zM139 160h1v1h-1zM139 164h1v1h-1zM139 169h1v1h-1zM139 170h1v1h-1zM139 174h1v1h-1zM139 185h1v1h-1zM139 192h1v1h-1zM139 197h1v1h-1zM139 199h1v1h-1zM139 202h1v1h-1zM139 208h1v1h-1zM139 219h1v1h-1zM139 229h1v1h-1zM139 231h1v1h-1zM139 235h1v1h-1zM139 236h1v1h-1zM140 76h1v1h-1zM140 81h1v1h-1zM140 90h1v1h-1zM140 92h1v1h-1zM140 94h1v1h-1zM140 95h1v1h-1zM140 96h1v1h-1zM140 97h1v1h-1zM140 100h1v1h-1zM140 103h1v1h-1zM140 105h1v1h-1zM140 108h1v1h-1zM140 109h1v1h-1zM140 112h1v1h-1zM140 119h1v1h-1zM140 120h1v1h-1zM140 123h1v1h-1zM140 124h1v1h-1zM140 125h1v1h-1zM140 126h1v1h-1zM140 128h1v1h-1zM140 129h1v1h-1zM140 132h1v1h-1zM140 133h1v1h-1zM140 136h1v1h-1zM140 140h1v1h-1zM140 142h1v1h-1zM140 143h1v1h-1zM140 150h1v1h-1zM140 152h1v1h-1zM140 156h1v1h-1zM140 162h1v1h-1zM140 166h1v1h-1zM140 167h1v1h-1zM140 175h1v1h-1zM140 176h1v1h-1zM140 178h1v1h-1zM140 180h1v1h-1zM140 181h1v1h-1zM140 185h1v1h-1zM140 186h1v1h-1zM140 188h1v1h-1zM140 197h1v1h-1zM140 205h1v1h-1zM140 210h1v1h-1zM141 90h1v1h-1zM141 92h1v1h-1zM141 94h1v1h-1zM141 95h1v1h-1zM141 96h1v1h-1zM141 97h1v1h-1zM141 98h1v1h-1zM141 100h1v1h-1zM141 102h1v1h-1zM141 104h1v1h-1zM141 122h1v1h-1zM141 129h1v1h-1zM141 130h1v1h-1zM141 140h1v1h-1zM141 142h1v1h-1zM141 146h1v1h-1zM141 154h1v1h-1zM141 160h1v1h-1zM141 161h1v1h-1zM141 164h1v1h-1zM141 168h1v1h-1zM141 172h1v1h-1zM141 178h1v1h-1zM141 179h1v1h-1zM141 180h1v1h-1zM141 190h1v1h-1zM141 193h1v1h-1zM141 194h1v1h-1zM141 196h1v1h-1zM141 200h1v1h-1zM141 226h1v1h-1zM141 227h1v1h-1zM142 81h1v1h-1zM142 84h1v1h-1zM142 87h1v1h-1zM142 88h1v1h-1zM142 89h1v1h-1zM142 90h1v1h-1zM142 95h1v1h-1zM142 97h1v1h-1zM142 100h1v1h-1zM142 103h1v1h-1zM142 104h1v1h-1zM142 105h1v1h-1zM142 106h1v1h-1zM142 111h1v1h-1zM142 120h1v1h-1zM142 123h1v1h-1zM142 124h1v1h-1zM142 127h1v1h-1zM142 128h1v1h-1zM142 129h1v1h-1zM142 131h1v1h-1zM142 133h1v1h-1zM142 134h1v1h-1zM142 136h1v1h-1zM142 138h1v1h-1zM142 141h1v1h-1zM142 142h1v1h-1zM142 159h1v1h-1zM142 162h1v1h-1zM142 164h1v1h-1zM142 174h1v1h-1zM142 176h1v1h-1zM142 177h1v1h-1zM142 178h1v1h-1zM142 185h1v1h-1zM142 188h1v1h-1zM142 190h1v1h-1zM142 193h1v1h-1zM142 198h1v1h-1zM142 200h1v1h-1zM142 201h1v1h-1zM142 207h1v1h-1zM142 208h1v1h-1zM142 222h1v1h-1zM142 233h1v1h-1zM143 80h1v1h-1zM143 84h1v1h-1zM143 85h1v1h-1zM143 86h1v1h-1zM143 87h1v1h-1zM143 89h1v1h-1zM143 90h1v1h-1zM143 93h1v1h-1zM143 95h1v1h-1zM143 96h1v1h-1zM143 99h1v1h-1zM143 100h1v1h-1zM143 102h1v1h-1zM143 107h1v1h-1zM143 113h1v1h-1zM143 120h1v1h-1zM143 124h1v1h-1zM143 128h1v1h-1zM143 129h1v1h-1zM143 131h1v1h-1zM143 132h1v1h-1zM143 133h1v1h-1zM143 143h1v1h-1zM143 145h1v1h-1zM143 147h1v1h-1zM143 148h1v1h-1zM143 164h1v1h-1zM143 166h1v1h-1zM143 167h1v1h-1zM143 170h1v1h-1zM143 171h1v1h-1zM143 176h1v1h-1zM143 177h1v1h-1zM143 178h1v1h-1zM143 179h1v1h-1zM143 186h1v1h-1zM143 191h1v1h-1zM143 197h1v1h-1zM143 203h1v1h-1zM143 206h1v1h-1zM143 210h1v1h-1zM143 219h1v1h-1zM143 221h1v1h-1zM143 222h1v1h-1zM143 223h1v1h-1zM143 236h1v1h-1zM144 79h1v1h-1zM144 81h1v1h-1zM144 86h1v1h-1zM144 89h1v1h-1zM144 90h1v1h-1zM144 91h1v1h-1zM144 99h1v1h-1zM144 100h1v1h-1zM144 103h1v1h-1zM144 105h1v1h-1zM144 106h1v1h-1zM144 115h1v1h-1zM144 123h1v1h-1zM144 125h1v1h-1zM144 126h1v1h-1zM144 129h1v1h-1zM144 130h1v1h-1zM144 138h1v1h-1zM144 141h1v1h-1zM144 143h1v1h-1zM144 150h1v1h-1zM144 158h1v1h-1zM144 163h1v1h-1zM144 164h1v1h-1zM144 169h1v1h-1zM144 171h1v1h-1zM144 177h1v1h-1zM144 179h1v1h-1zM144 181h1v1h-1zM144 182h1v1h-1zM144 190h1v1h-1zM144 193h1v1h-1zM144 197h1v1h-1zM144 209h1v1h-1zM144 214h1v1h-1zM144 228h1v1h-1zM145 76h1v1h-1zM145 82h1v1h-1zM145 86h1v1h-1zM145 89h1v1h-1zM145 94h1v1h-1zM145 96h1v1h-1zM145 97h1v1h-1zM145 98h1v1h-1zM145 101h1v1h-1zM145 103h1v1h-1zM145 105h1v1h-1zM145 106h1v1h-1zM145 109h1v1h-1zM145 112h1v1h-1zM145 114h1v1h-1zM145 126h1v1h-1zM145 131h1v1h-1zM145 135h1v1h-1zM145 136h1v1h-1zM145 138h1v1h-1zM145 141h1v1h-1zM145 147h1v1h-1zM145 149h1v1h-1zM145 150h1v1h-1zM145 155h1v1h-1zM145 161h1v1h-1zM145 163h1v1h-1zM145 171h1v1h-1zM145 173h1v1h-1zM145 174h1v1h-1zM145 178h1v1h-1zM145 183h1v1h-1zM145 184h1v1h-1zM145 195h1v1h-1zM145 204h1v1h-1zM145 208h1v1h-1zM145 209h1v1h-1zM146 86h1v1h-1zM146 88h1v1h-1zM146 92h1v1h-1zM146 93h1v1h-1zM146 94h1v1h-1zM146 95h1v1h-1zM146 96h1v1h-1zM146 98h1v1h-1zM146 99h1v1h-1zM146 101h1v1h-1zM146 105h1v1h-1zM146 107h1v1h-1zM146 112h1v1h-1zM146 127h1v1h-1zM146 130h1v1h-1zM146 143h1v1h-1zM146 148h1v1h-1zM146 155h1v1h-1zM146 157h1v1h-1zM146 161h1v1h-1zM146 165h1v1h-1zM146 185h1v1h-1zM146 194h1v1h-1zM146 195h1v1h-1zM146 232h1v1h-1zM146 235h1v1h-1zM146 236h1v1h-1zM147 84h1v1h-1zM147 85h1v1h-1zM147 87h1v1h-1zM147 96h1v1h-1zM147 98h1v1h-1zM147 106h1v1h-1zM147 113h1v1h-1zM147 121h1v1h-1zM147 122h1v1h-1zM147 125h1v1h-1zM147 127h1v1h-1zM147 129h1v1h-1zM147 146h1v1h-1zM147 150h1v1h-1zM147 160h1v1h-1zM147 161h1v1h-1zM147 162h1v1h-1zM147 164h1v1h-1zM147 172h1v1h-1zM147 173h1v1h-1zM147 176h1v1h-1zM147 177h1v1h-1zM147 179h1v1h-1zM147 185h1v1h-1zM147 191h1v1h-1zM147 192h1v1h-1zM147 199h1v1h-1zM147 206h1v1h-1zM148 84h1v1h-1zM148 90h1v1h-1zM148 91h1v1h-1zM148 92h1v1h-1zM148 95h1v1h-1zM148 97h1v1h-1zM148 99h1v1h-1zM148 105h1v1h-1zM148 109h1v1h-1zM148 112h1v1h-1zM148 126h1v1h-1zM148 136h1v1h-1zM148 144h1v1h-1zM148 150h1v1h-1zM148 152h1v1h-1zM148 157h1v1h-1zM148 165h1v1h-1zM148 170h1v1h-1zM148 171h1v1h-1zM148 173h1v1h-1zM148 175h1v1h-1zM148 176h1v1h-1zM148 178h1v1h-1zM148 185h1v1h-1zM148 190h1v1h-1zM148 193h1v1h-1zM148 194h1v1h-1zM148 207h1v1h-1zM148 236h1v1h-1zM149 70h1v1h-1zM149 82h1v1h-1zM149 86h1v1h-1zM149 90h1v1h-1zM149 93h1v1h-1zM149 94h1v1h-1zM149 97h1v1h-1zM149 98h1v1h-1zM149 104h1v1h-1zM149 108h1v1h-1zM149 109h1v1h-1zM149 111h1v1h-1zM149 113h1v1h-1zM149 122h1v1h-1zM149 125h1v1h-1zM149 134h1v1h-1zM149 142h1v1h-1zM149 143h1v1h-1zM149 155h1v1h-1zM149 158h1v1h-1zM149 159h1v1h-1zM149 160h1v1h-1zM149 164h1v1h-1zM149 168h1v1h-1zM149 170h1v1h-1zM149 179h1v1h-1zM149 181h1v1h-1zM149 196h1v1h-1zM149 202h1v1h-1zM149 209h1v1h-1zM150 81h1v1h-1zM150 83h1v1h-1zM150 85h1v1h-1zM150 87h1v1h-1zM150 91h1v1h-1zM150 95h1v1h-1zM150 102h1v1h-1zM150 103h1v1h-1zM150 106h1v1h-1zM150 107h1v1h-1zM150 108h1v1h-1zM150 109h1v1h-1zM150 112h1v1h-1zM150 114h1v1h-1zM150 122h1v1h-1zM150 127h1v1h-1zM150 131h1v1h-1zM150 176h1v1h-1zM150 184h1v1h-1zM150 203h1v1h-1zM150 208h1v1h-1zM150 212h1v1h-1zM150 236h1v1h-1zM151 86h1v1h-1zM151 89h1v1h-1zM151 93h1v1h-1zM151 94h1v1h-1zM151 97h1v1h-1zM151 98h1v1h-1zM151 99h1v1h-1zM151 120h1v1h-1zM151 140h1v1h-1zM151 146h1v1h-1zM151 150h1v1h-1zM151 153h1v1h-1zM151 175h1v1h-1zM151 180h1v1h-1zM151 181h1v1h-1zM151 182h1v1h-1zM151 183h1v1h-1zM151 191h1v1h-1zM151 220h1v1h-1zM152 85h1v1h-1zM152 87h1v1h-1zM152 91h1v1h-1zM152 93h1v1h-1zM152 94h1v1h-1zM152 102h1v1h-1zM152 106h1v1h-1zM152 110h1v1h-1zM152 115h1v1h-1zM152 131h1v1h-1zM152 144h1v1h-1zM152 146h1v1h-1zM152 164h1v1h-1zM152 168h1v1h-1zM152 175h1v1h-1zM152 181h1v1h-1zM152 196h1v1h-1zM152 197h1v1h-1zM153 81h1v1h-1zM153 83h1v1h-1zM153 84h1v1h-1zM153 85h1v1h-1zM153 88h1v1h-1zM153 90h1v1h-1zM153 92h1v1h-1zM153 98h1v1h-1zM153 99h1v1h-1zM153 101h1v1h-1zM153 102h1v1h-1zM153 112h1v1h-1zM153 114h1v1h-1zM153 121h1v1h-1zM153 122h1v1h-1zM153 146h1v1h-1zM153 151h1v1h-1zM153 162h1v1h-1zM153 170h1v1h-1zM153 172h1v1h-1zM153 176h1v1h-1zM153 186h1v1h-1zM153 190h1v1h-1zM153 191h1v1h-1zM153 194h1v1h-1zM154 84h1v1h-1zM154 87h1v1h-1zM154 90h1v1h-1zM154 93h1v1h-1zM154 95h1v1h-1zM154 99h1v1h-1zM154 102h1v1h-1zM154 121h1v1h-1zM154 130h1v1h-1zM154 132h1v1h-1zM154 173h1v1h-1zM154 179h1v1h-1zM154 192h1v1h-1zM154 193h1v1h-1zM155 82h1v1h-1zM155 84h1v1h-1zM155 85h1v1h-1zM155 87h1v1h-1zM155 88h1v1h-1zM155 89h1v1h-1zM155 91h1v1h-1zM155 93h1v1h-1zM155 94h1v1h-1zM155 102h1v1h-1zM155 118h1v1h-1zM155 128h1v1h-1zM155 132h1v1h-1zM155 136h1v1h-1zM155 145h1v1h-1zM155 155h1v1h-1zM155 160h1v1h-1zM155 164h1v1h-1zM155 174h1v1h-1zM155 175h1v1h-1zM155 177h1v1h-1zM155 193h1v1h-1zM155 219h1v1h-1zM155 235h1v1h-1zM156 86h1v1h-1zM156 90h1v1h-1zM156 92h1v1h-1zM156 94h1v1h-1zM156 96h1v1h-1zM156 97h1v1h-1zM156 98h1v1h-1zM156 115h1v1h-1zM156 123h1v1h-1zM156 126h1v1h-1zM156 141h1v1h-1zM156 148h1v1h-1zM156 154h1v1h-1zM156 155h1v1h-1zM156 175h1v1h-1zM156 206h1v1h-1zM156 224h1v1h-1zM157 80h1v1h-1zM157 84h1v1h-1zM157 88h1v1h-1zM157 99h1v1h-1zM157 101h1v1h-1zM157 103h1v1h-1zM157 106h1v1h-1zM157 110h1v1h-1zM157 148h1v1h-1zM157 160h1v1h-1zM157 170h1v1h-1zM157 205h1v1h-1zM157 226h1v1h-1zM158 67h1v1h-1zM158 87h1v1h-1zM158 95h1v1h-1zM158 97h1v1h-1zM158 98h1v1h-1zM158 101h1v1h-1zM158 102h1v1h-1zM158 138h1v1h-1zM158 142h1v1h-1zM158 156h1v1h-1zM158 158h1v1h-1zM158 172h1v1h-1zM158 188h1v1h-1zM158 192h1v1h-1zM158 200h1v1h-1zM158 203h1v1h-1zM159 72h1v1h-1zM159 81h1v1h-1zM159 84h1v1h-1zM159 91h1v1h-1zM159 95h1v1h-1zM159 105h1v1h-1zM159 118h1v1h-1zM159 122h1v1h-1zM159 167h1v1h-1zM159 190h1v1h-1zM159 225h1v1h-1zM160 75h1v1h-1zM160 83h1v1h-1zM160 85h1v1h-1zM160 90h1v1h-1zM160 91h1v1h-1zM160 92h1v1h-1zM160 106h1v1h-1zM160 107h1v1h-1zM160 117h1v1h-1zM160 121h1v1h-1zM160 128h1v1h-1zM160 142h1v1h-1zM160 165h1v1h-1zM160 168h1v1h-1zM160 183h1v1h-1zM160 224h1v1h-1zM161 87h1v1h-1zM161 93h1v1h-1zM161 94h1v1h-1zM161 95h1v1h-1zM161 107h1v1h-1zM161 118h1v1h-1zM161 130h1v1h-1zM161 137h1v1h-1zM161 157h1v1h-1zM161 161h1v1h-1zM161 184h1v1h-1zM162 73h1v1h-1zM162 82h1v1h-1zM162 84h1v1h-1zM162 86h1v1h-1zM162 93h1v1h-1zM162 95h1v1h-1zM162 96h1v1h-1zM162 97h1v1h-1zM162 113h1v1h-1zM162 122h1v1h-1zM162 129h1v1h-1zM162 140h1v1h-1zM162 146h1v1h-1zM162 152h1v1h-1zM162 156h1v1h-1zM162 172h1v1h-1zM163 87h1v1h-1zM163 88h1v1h-1zM163 92h1v1h-1zM163 93h1v1h-1zM163 95h1v1h-1zM163 96h1v1h-1zM163 115h1v1h-1zM163 121h1v1h-1zM163 122h1v1h-1zM163 156h1v1h-1zM163 190h1v1h-1zM163 222h1v1h-1zM164 89h1v1h-1zM164 93h1v1h-1zM164 100h1v1h-1zM164 127h1v1h-1zM164 146h1v1h-1zM164 150h1v1h-1zM164 162h1v1h-1zM164 172h1v1h-1zM164 201h1v1h-1zM165 77h1v1h-1zM165 80h1v1h-1zM165 85h1v1h-1zM165 87h1v1h-1zM165 91h1v1h-1zM165 95h1v1h-1zM165 100h1v1h-1zM165 101h1v1h-1zM165 102h1v1h-1zM165 106h1v1h-1zM165 110h1v1h-1zM165 116h1v1h-1zM165 123h1v1h-1zM165 143h1v1h-1zM165 159h1v1h-1zM165 162h1v1h-1zM165 169h1v1h-1zM166 73h1v1h-1zM166 78h1v1h-1zM166 79h1v1h-1zM166 92h1v1h-1zM166 93h1v1h-1zM166 115h1v1h-1zM166 123h1v1h-1zM166 136h1v1h-1zM166 153h1v1h-1zM166 178h1v1h-1zM166 190h1v1h-1zM166 221h1v1h-1zM167 70h1v1h-1zM167 83h1v1h-1zM167 85h1v1h-1zM167 87h1v1h-1zM167 88h1v1h-1zM167 91h1v1h-1zM167 101h1v1h-1zM167 143h1v1h-1zM167 146h1v1h-1zM168 76h1v1h-1zM168 80h1v1h-1zM168 85h1v1h-1zM168 89h1v1h-1zM168 91h1v1h-1zM168 94h1v1h-1zM168 105h1v1h-1zM168 116h1v1h-1zM168 132h1v1h-1zM168 140h1v1h-1zM168 163h1v1h-1zM168 230h1v1h-1zM168 232h1v1h-1zM169 81h1v1h-1zM169 82h1v1h-1zM169 84h1v1h-1zM169 85h1v1h-1zM169 86h1v1h-1zM169 90h1v1h-1zM169 93h1v1h-1zM169 99h1v1h-1zM169 117h1v1h-1zM169 143h1v1h-1zM169 144h1v1h-1zM170 68h1v1h-1zM170 78h1v1h-1zM170 79h1v1h-1zM170 83h1v1h-1zM170 90h1v1h-1zM170 91h1v1h-1zM170 94h1v1h-1zM170 95h1v1h-1zM170 101h1v1h-1zM170 141h1v1h-1zM170 142h1v1h-1zM170 149h1v1h-1zM170 160h1v1h-1zM171 82h1v1h-1zM171 83h1v1h-1zM171 86h1v1h-1zM171 87h1v1h-1zM171 89h1v1h-1zM171 90h1v1h-1zM171 91h1v1h-1zM171 92h1v1h-1zM171 94h1v1h-1zM171 95h1v1h-1zM171 96h1v1h-1zM171 101h1v1h-1zM171 107h1v1h-1zM171 108h1v1h-1zM171 121h1v1h-1zM171 146h1v1h-1zM171 148h1v1h-1zM171 162h1v1h-1zM171 167h1v1h-1zM171 216h1v1h-1zM172 75h1v1h-1zM172 76h1v1h-1zM172 83h1v1h-1zM172 85h1v1h-1zM172 87h1v1h-1zM172 90h1v1h-1zM172 93h1v1h-1zM172 95h1v1h-1zM172 97h1v1h-1zM172 98h1v1h-1zM172 101h1v1h-1zM172 103h1v1h-1zM172 104h1v1h-1zM172 162h1v1h-1zM173 77h1v1h-1zM173 81h1v1h-1zM173 83h1v1h-1zM173 85h1v1h-1zM173 86h1v1h-1zM173 87h1v1h-1zM173 88h1v1h-1zM173 91h1v1h-1zM173 98h1v1h-1zM173 101h1v1h-1zM173 102h1v1h-1zM173 103h1v1h-1zM173 111h1v1h-1zM173 119h1v1h-1zM173 141h1v1h-1zM173 143h1v1h-1zM173 145h1v1h-1zM173 180h1v1h-1zM173 182h1v1h-1zM173 228h1v1h-1zM174 82h1v1h-1zM174 86h1v1h-1zM174 88h1v1h-1zM174 90h1v1h-1zM174 91h1v1h-1zM174 93h1v1h-1zM174 95h1v1h-1zM174 98h1v1h-1zM174 100h1v1h-1zM174 102h1v1h-1zM174 103h1v1h-1zM174 108h1v1h-1zM174 153h1v1h-1zM174 205h1v1h-1zM175 82h1v1h-1zM175 86h1v1h-1zM175 87h1v1h-1zM175 88h1v1h-1zM175 89h1v1h-1zM175 93h1v1h-1zM175 94h1v1h-1zM175 95h1v1h-1zM175 100h1v1h-1zM175 101h1v1h-1zM175 103h1v1h-1zM175 129h1v1h-1zM175 134h1v1h-1zM175 176h1v1h-1zM175 185h1v1h-1zM175 189h1v1h-1zM176 79h1v1h-1zM176 81h1v1h-1zM176 85h1v1h-1zM176 87h1v1h-1zM176 88h1v1h-1zM176 91h1v1h-1zM176 92h1v1h-1zM176 93h1v1h-1zM176 94h1v1h-1zM176 95h1v1h-1zM176 97h1v1h-1zM176 98h1v1h-1zM176 99h1v1h-1zM176 107h1v1h-1zM176 118h1v1h-1zM176 131h1v1h-1zM177 84h1v1h-1zM177 91h1v1h-1zM177 92h1v1h-1zM177 95h1v1h-1zM177 97h1v1h-1zM177 98h1v1h-1zM177 105h1v1h-1zM177 151h1v1h-1zM177 154h1v1h-1zM177 169h1v1h-1zM178 78h1v1h-1zM178 80h1v1h-1zM178 81h1v1h-1zM178 82h1v1h-1zM178 83h1v1h-1zM178 85h1v1h-1zM178 86h1v1h-1zM178 87h1v1h-1zM178 88h1v1h-1zM178 90h1v1h-1zM178 92h1v1h-1zM178 93h1v1h-1zM178 95h1v1h-1zM178 97h1v1h-1zM178 115h1v1h-1zM178 117h1v1h-1zM178 120h1v1h-1zM178 133h1v1h-1zM178 144h1v1h-1zM178 159h1v1h-1zM178 193h1v1h-1zM178 211h1v1h-1zM179 79h1v1h-1zM179 81h1v1h-1zM179 82h1v1h-1zM179 83h1v1h-1zM179 84h1v1h-1zM179 85h1v1h-1zM179 86h1v1h-1zM179 88h1v1h-1zM179 90h1v1h-1zM179 91h1v1h-1zM179 92h1v1h-1zM179 93h1v1h-1zM179 94h1v1h-1zM179 95h1v1h-1zM179 98h1v1h-1zM179 107h1v1h-1zM179 115h1v1h-1zM179 116h1v1h-1zM179 117h1v1h-1zM179 127h1v1h-1zM179 136h1v1h-1zM179 141h1v1h-1zM179 152h1v1h-1zM179 154h1v1h-1zM179 227h1v1h-1zM180 79h1v1h-1zM180 80h1v1h-1zM180 82h1v1h-1zM180 84h1v1h-1zM180 87h1v1h-1zM180 88h1v1h-1zM180 90h1v1h-1zM180 91h1v1h-1zM180 93h1v1h-1zM180 94h1v1h-1zM180 95h1v1h-1zM180 98h1v1h-1zM180 99h1v1h-1zM180 107h1v1h-1zM180 122h1v1h-1zM180 160h1v1h-1zM181 75h1v1h-1zM181 80h1v1h-1zM181 81h1v1h-1zM181 85h1v1h-1zM181 86h1v1h-1zM181 89h1v1h-1zM181 91h1v1h-1zM181 92h1v1h-1zM181 93h1v1h-1zM181 96h1v1h-1zM181 99h1v1h-1zM181 102h1v1h-1zM181 105h1v1h-1zM181 170h1v1h-1zM181 215h1v1h-1zM181 216h1v1h-1zM182 78h1v1h-1zM182 81h1v1h-1zM182 82h1v1h-1zM182 83h1v1h-1zM182 86h1v1h-1zM182 88h1v1h-1zM182 89h1v1h-1zM182 90h1v1h-1zM182 94h1v1h-1zM182 95h1v1h-1zM182 99h1v1h-1zM182 134h1v1h-1zM182 170h1v1h-1zM183 76h1v1h-1zM183 77h1v1h-1zM183 78h1v1h-1zM183 79h1v1h-1zM183 80h1v1h-1zM183 84h1v1h-1zM183 85h1v1h-1zM183 87h1v1h-1zM183 88h1v1h-1zM183 91h1v1h-1zM183 93h1v1h-1zM183 96h1v1h-1zM183 97h1v1h-1zM183 98h1v1h-1zM183 99h1v1h-1zM183 104h1v1h-1zM183 105h1v1h-1zM183 106h1v1h-1zM183 149h1v1h-1zM184 78h1v1h-1zM184 79h1v1h-1zM184 80h1v1h-1zM184 87h1v1h-1zM184 88h1v1h-1zM184 91h1v1h-1zM184 95h1v1h-1zM184 97h1v1h-1zM184 98h1v1h-1zM184 121h1v1h-1zM184 147h1v1h-1zM184 170h1v1h-1zM185 76h1v1h-1zM185 80h1v1h-1zM185 82h1v1h-1zM185 86h1v1h-1zM185 89h1v1h-1zM185 90h1v1h-1zM185 92h1v1h-1zM185 93h1v1h-1zM185 95h1v1h-1zM185 112h1v1h-1zM185 133h1v1h-1zM185 227h1v1h-1zM185 231h1v1h-1zM186 65h1v1h-1zM186 68h1v1h-1zM186 79h1v1h-1zM186 84h1v1h-1zM186 87h1v1h-1zM186 88h1v1h-1zM186 90h1v1h-1zM186 92h1v1h-1zM186 93h1v1h-1zM186 101h1v1h-1zM186 157h1v1h-1zM186 162h1v1h-1zM187 82h1v1h-1zM187 85h1v1h-1zM187 98h1v1h-1zM187 101h1v1h-1zM187 111h1v1h-1zM187 139h1v1h-1zM188 88h1v1h-1zM188 89h1v1h-1zM188 91h1v1h-1zM188 92h1v1h-1zM188 94h1v1h-1zM188 96h1v1h-1zM188 97h1v1h-1zM188 98h1v1h-1zM188 111h1v1h-1zM188 188h1v1h-1zM188 204h1v1h-1zM189 70h1v1h-1zM189 78h1v1h-1zM189 81h1v1h-1zM189 82h1v1h-1zM189 84h1v1h-1zM189 85h1v1h-1zM189 87h1v1h-1zM189 91h1v1h-1zM189 92h1v1h-1zM189 94h1v1h-1zM189 96h1v1h-1zM189 98h1v1h-1zM189 101h1v1h-1zM189 105h1v1h-1zM190 78h1v1h-1zM190 80h1v1h-1zM190 81h1v1h-1zM190 82h1v1h-1zM190 84h1v1h-1zM190 86h1v1h-1zM190 87h1v1h-1zM190 89h1v1h-1zM190 91h1v1h-1zM190 92h1v1h-1zM190 119h1v1h-1zM191 72h1v1h-1zM191 75h1v1h-1zM191 81h1v1h-1zM191 83h1v1h-1zM191 84h1v1h-1zM191 89h1v1h-1zM191 93h1v1h-1zM191 96h1v1h-1zM191 101h1v1h-1zM191 103h1v1h-1zM191 120h1v1h-1zM191 135h1v1h-1zM191 160h1v1h-1zM191 197h1v1h-1zM192 80h1v1h-1zM192 86h1v1h-1zM192 89h1v1h-1zM192 93h1v1h-1zM192 103h1v1h-1zM192 110h1v1h-1zM192 157h1v1h-1zM193 77h1v1h-1zM193 82h1v1h-1zM193 85h1v1h-1zM193 97h1v1h-1zM193 99h1v1h-1zM193 142h1v1h-1zM194 82h1v1h-1zM194 83h1v1h-1zM194 89h1v1h-1zM194 94h1v1h-1zM194 112h1v1h-1zM194 196h1v1h-1zM195 88h1v1h-1zM195 90h1v1h-1zM195 93h1v1h-1zM195 97h1v1h-1zM195 103h1v1h-1zM196 80h1v1h-1zM196 85h1v1h-1zM196 91h1v1h-1zM196 92h1v1h-1zM196 99h1v1h-1zM197 79h1v1h-1zM197 80h1v1h-1zM197 88h1v1h-1zM197 92h1v1h-1zM198 84h1v1h-1zM198 85h1v1h-1zM198 94h1v1h-1zM199 91h1v1h-1zM201 88h1v1h-1zM201 199h1v1h-1zM202 126h1v1h-1zM202 202h1v1h-1zM203 128h1v1h-1zM204 90h1v1h-1zM204 204h1v1h-1zM205 82h1v1h-1zM205 233h1v1h-1zM206 82h1v1h-1zM206 95h1v1h-1zM209 97h1v1h-1zM211 101h1v1h-1zM301 140h1v1h-1zM301 171h1v1h-1zM304 137h1v1h-1zM304 173h1v1h-1zM305 177h1v1h-1zM306 213h1v1h-1zM306 229h1v1h-1zM308 162h1v1h-1zM310 224h1v1h-1zM311 120h1v1h-1zM311 226h1v1h-1zM312 144h1v1h-1zM314 179h1v1h-1zM314 184h1v1h-1zM315 209h1v1h-1zM316 156h1v1h-1zM316 175h1v1h-1zM317 167h1v1h-1zM317 185h1v1h-1zM317 232h1v1h-1zM318 141h1v1h-1zM318 165h1v1h-1zM318 219h1v1h-1zM318 232h1v1h-1zM319 174h1v1h-1zM319 198h1v1h-1zM320 142h1v1h-1zM320 215h1v1h-1zM321 138h1v1h-1zM321 148h1v1h-1zM321 193h1v1h-1zM322 126h1v1h-1zM322 151h1v1h-1zM322 155h1v1h-1zM323 143h1v1h-1zM323 156h1v1h-1zM323 174h1v1h-1zM323 200h1v1h-1zM323 205h1v1h-1zM324 128h1v1h-1zM324 168h1v1h-1zM324 176h1v1h-1zM324 194h1v1h-1zM325 117h1v1h-1zM325 144h1v1h-1zM325 201h1v1h-1zM326 83h1v1h-1zM326 151h1v1h-1zM326 163h1v1h-1zM326 172h1v1h-1zM326 174h1v1h-1zM326 188h1v1h-1zM327 136h1v1h-1zM327 138h1v1h-1zM327 173h1v1h-1zM327 180h1v1h-1zM327 181h1v1h-1zM327 209h1v1h-1zM327 219h1v1h-1zM328 130h1v1h-1zM328 150h1v1h-1zM328 177h1v1h-1zM328 206h1v1h-1zM328 225h1v1h-1zM328 235h1v1h-1zM329 144h1v1h-1zM329 174h1v1h-1zM329 183h1v1h-1zM329 225h1v1h-1zM329 231h1v1h-1zM329 236h1v1h-1zM330 85h1v1h-1zM330 89h1v1h-1zM330 97h1v1h-1zM330 139h1v1h-1zM330 147h1v1h-1zM330 166h1v1h-1zM330 171h1v1h-1zM330 186h1v1h-1zM330 193h1v1h-1zM330 208h1v1h-1zM330 222h1v1h-1zM331 89h1v1h-1zM331 175h1v1h-1zM331 193h1v1h-1zM331 202h1v1h-1zM332 95h1v1h-1zM332 112h1v1h-1zM332 137h1v1h-1zM332 151h1v1h-1zM332 175h1v1h-1zM332 177h1v1h-1zM332 181h1v1h-1zM332 182h1v1h-1zM332 236h1v1h-1zM333 137h1v1h-1zM333 146h1v1h-1zM333 152h1v1h-1zM333 186h1v1h-1zM333 187h1v1h-1zM333 197h1v1h-1zM333 213h1v1h-1zM334 91h1v1h-1zM334 92h1v1h-1zM334 160h1v1h-1zM334 162h1v1h-1zM334 173h1v1h-1zM334 179h1v1h-1zM334 183h1v1h-1zM334 185h1v1h-1zM334 199h1v1h-1zM334 202h1v1h-1zM335 95h1v1h-1zM335 105h1v1h-1zM335 157h1v1h-1zM335 173h1v1h-1zM335 205h1v1h-1zM335 217h1v1h-1zM335 225h1v1h-1zM335 236h1v1h-1zM336 97h1v1h-1zM336 122h1v1h-1zM336 140h1v1h-1zM336 153h1v1h-1zM336 159h1v1h-1zM336 166h1v1h-1zM336 177h1v1h-1zM336 191h1v1h-1zM336 195h1v1h-1zM336 215h1v1h-1zM337 94h1v1h-1zM337 145h1v1h-1zM337 172h1v1h-1zM337 177h1v1h-1zM337 179h1v1h-1zM337 192h1v1h-1zM337 196h1v1h-1zM337 200h1v1h-1zM337 202h1v1h-1zM337 206h1v1h-1zM337 214h1v1h-1zM337 219h1v1h-1zM337 227h1v1h-1zM337 236h1v1h-1zM338 82h1v1h-1zM338 90h1v1h-1zM338 92h1v1h-1zM338 95h1v1h-1zM338 99h1v1h-1zM338 102h1v1h-1zM338 113h1v1h-1zM338 114h1v1h-1zM338 129h1v1h-1zM338 136h1v1h-1zM338 149h1v1h-1zM338 165h1v1h-1zM338 166h1v1h-1zM338 168h1v1h-1zM338 170h1v1h-1zM338 174h1v1h-1zM338 181h1v1h-1zM338 185h1v1h-1zM338 186h1v1h-1zM338 188h1v1h-1zM338 189h1v1h-1zM338 191h1v1h-1zM338 195h1v1h-1zM338 206h1v1h-1zM338 212h1v1h-1zM338 221h1v1h-1zM338 236h1v1h-1zM339 82h1v1h-1zM339 85h1v1h-1zM339 94h1v1h-1zM339 126h1v1h-1zM339 137h1v1h-1zM339 138h1v1h-1zM339 140h1v1h-1zM339 145h1v1h-1zM339 165h1v1h-1zM339 173h1v1h-1zM339 180h1v1h-1zM339 181h1v1h-1zM339 196h1v1h-1zM339 221h1v1h-1zM340 84h1v1h-1zM340 101h1v1h-1zM340 107h1v1h-1zM340 116h1v1h-1zM340 142h1v1h-1zM340 158h1v1h-1zM340 172h1v1h-1zM340 173h1v1h-1zM340 174h1v1h-1zM340 180h1v1h-1zM340 184h1v1h-1zM340 186h1v1h-1zM340 189h1v1h-1zM340 201h1v1h-1zM340 217h1v1h-1zM340 221h1v1h-1zM340 224h1v1h-1zM340 225h1v1h-1zM341 100h1v1h-1zM341 106h1v1h-1zM341 110h1v1h-1zM341 114h1v1h-1zM341 131h1v1h-1zM341 136h1v1h-1zM341 154h1v1h-1zM341 158h1v1h-1zM341 160h1v1h-1zM341 165h1v1h-1zM341 168h1v1h-1zM341 175h1v1h-1zM341 176h1v1h-1zM341 183h1v1h-1zM341 195h1v1h-1zM341 202h1v1h-1zM341 204h1v1h-1zM341 205h1v1h-1zM341 212h1v1h-1zM341 213h1v1h-1zM342 88h1v1h-1zM342 94h1v1h-1zM342 97h1v1h-1zM342 99h1v1h-1zM342 106h1v1h-1zM342 117h1v1h-1zM342 122h1v1h-1zM342 133h1v1h-1zM342 138h1v1h-1zM342 156h1v1h-1zM342 162h1v1h-1zM342 167h1v1h-1zM342 178h1v1h-1zM342 179h1v1h-1zM342 180h1v1h-1zM342 181h1v1h-1zM342 183h1v1h-1zM342 185h1v1h-1zM342 186h1v1h-1zM342 203h1v1h-1zM342 211h1v1h-1zM342 212h1v1h-1zM342 225h1v1h-1zM342 235h1v1h-1zM342 236h1v1h-1zM343 86h1v1h-1zM343 89h1v1h-1zM343 97h1v1h-1zM343 120h1v1h-1zM343 124h1v1h-1zM343 130h1v1h-1zM343 134h1v1h-1zM343 146h1v1h-1zM343 149h1v1h-1zM343 154h1v1h-1zM343 161h1v1h-1zM343 163h1v1h-1zM343 164h1v1h-1zM343 171h1v1h-1zM343 172h1v1h-1zM343 173h1v1h-1zM343 175h1v1h-1zM343 176h1v1h-1zM343 179h1v1h-1zM343 181h1v1h-1zM343 182h1v1h-1zM343 183h1v1h-1zM343 190h1v1h-1zM343 193h1v1h-1zM343 195h1v1h-1zM343 204h1v1h-1zM343 205h1v1h-1zM343 206h1v1h-1zM343 209h1v1h-1zM343 221h1v1h-1zM344 80h1v1h-1zM344 88h1v1h-1zM344 99h1v1h-1zM344 104h1v1h-1zM344 107h1v1h-1zM344 112h1v1h-1zM344 140h1v1h-1zM344 146h1v1h-1zM344 152h1v1h-1zM344 157h1v1h-1zM344 164h1v1h-1zM344 166h1v1h-1zM344 167h1v1h-1zM344 170h1v1h-1zM344 172h1v1h-1zM344 180h1v1h-1zM344 185h1v1h-1zM344 194h1v1h-1zM344 198h1v1h-1zM344 204h1v1h-1zM344 210h1v1h-1zM344 220h1v1h-1zM344 223h1v1h-1zM344 236h1v1h-1zM345 95h1v1h-1zM345 100h1v1h-1zM345 107h1v1h-1zM345 117h1v1h-1zM345 129h1v1h-1zM345 138h1v1h-1zM345 141h1v1h-1zM345 150h1v1h-1zM345 158h1v1h-1zM345 159h1v1h-1zM345 162h1v1h-1zM345 165h1v1h-1zM345 166h1v1h-1zM345 171h1v1h-1zM345 179h1v1h-1zM345 183h1v1h-1zM345 184h1v1h-1zM345 185h1v1h-1zM345 186h1v1h-1zM345 197h1v1h-1zM345 199h1v1h-1zM345 201h1v1h-1zM345 211h1v1h-1zM345 215h1v1h-1zM345 219h1v1h-1zM345 235h1v1h-1zM346 98h1v1h-1zM346 102h1v1h-1zM346 121h1v1h-1zM346 128h1v1h-1zM346 130h1v1h-1zM346 134h1v1h-1zM346 135h1v1h-1zM346 136h1v1h-1zM346 138h1v1h-1zM346 148h1v1h-1zM346 155h1v1h-1zM346 159h1v1h-1zM346 160h1v1h-1zM346 161h1v1h-1zM346 164h1v1h-1zM346 165h1v1h-1zM346 168h1v1h-1zM346 170h1v1h-1zM346 175h1v1h-1zM346 178h1v1h-1zM346 179h1v1h-1zM346 181h1v1h-1zM346 183h1v1h-1zM346 184h1v1h-1zM346 185h1v1h-1zM346 188h1v1h-1zM346 191h1v1h-1zM346 193h1v1h-1zM346 198h1v1h-1zM346 201h1v1h-1zM346 202h1v1h-1zM346 204h1v1h-1zM346 212h1v1h-1zM346 220h1v1h-1zM346 223h1v1h-1zM346 226h1v1h-1zM346 233h1v1h-1zM346 235h1v1h-1zM346 236h1v1h-1zM347 91h1v1h-1zM347 94h1v1h-1zM347 96h1v1h-1zM347 98h1v1h-1zM347 108h1v1h-1zM347 143h1v1h-1zM347 144h1v1h-1zM347 149h1v1h-1zM347 154h1v1h-1zM347 155h1v1h-1zM347 160h1v1h-1zM347 163h1v1h-1zM347 164h1v1h-1zM347 173h1v1h-1zM347 174h1v1h-1zM347 175h1v1h-1zM347 177h1v1h-1zM347 178h1v1h-1zM347 180h1v1h-1zM347 181h1v1h-1zM347 182h1v1h-1zM347 183h1v1h-1zM347 184h1v1h-1zM347 186h1v1h-1zM347 192h1v1h-1zM347 194h1v1h-1zM347 199h1v1h-1zM347 208h1v1h-1zM347 210h1v1h-1zM347 212h1v1h-1zM347 215h1v1h-1zM347 216h1v1h-1zM347 232h1v1h-1zM347 236h1v1h-1zM348 96h1v1h-1zM348 101h1v1h-1zM348 109h1v1h-1zM348 118h1v1h-1zM348 126h1v1h-1zM348 132h1v1h-1zM348 134h1v1h-1zM348 135h1v1h-1zM348 137h1v1h-1zM348 138h1v1h-1zM348 142h1v1h-1zM348 144h1v1h-1zM348 150h1v1h-1zM348 151h1v1h-1zM348 157h1v1h-1zM348 159h1v1h-1zM348 160h1v1h-1zM348 163h1v1h-1zM348 164h1v1h-1zM348 165h1v1h-1zM348 169h1v1h-1zM348 170h1v1h-1zM348 171h1v1h-1zM348 175h1v1h-1zM348 178h1v1h-1zM348 180h1v1h-1zM348 182h1v1h-1zM348 183h1v1h-1zM348 186h1v1h-1zM348 191h1v1h-1zM348 200h1v1h-1zM348 204h1v1h-1zM348 211h1v1h-1zM348 222h1v1h-1zM348 223h1v1h-1zM348 229h1v1h-1zM348 236h1v1h-1zM349 89h1v1h-1zM349 91h1v1h-1zM349 93h1v1h-1zM349 95h1v1h-1zM349 104h1v1h-1zM349 109h1v1h-1zM349 128h1v1h-1zM349 131h1v1h-1zM349 136h1v1h-1zM349 152h1v1h-1zM349 154h1v1h-1zM349 156h1v1h-1zM349 160h1v1h-1zM349 161h1v1h-1zM349 162h1v1h-1zM349 163h1v1h-1zM349 164h1v1h-1zM349 168h1v1h-1zM349 171h1v1h-1zM349 174h1v1h-1zM349 175h1v1h-1zM349 177h1v1h-1zM349 179h1v1h-1zM349 181h1v1h-1zM349 183h1v1h-1zM349 187h1v1h-1zM349 188h1v1h-1zM349 191h1v1h-1zM349 192h1v1h-1zM349 193h1v1h-1zM349 196h1v1h-1zM349 197h1v1h-1zM349 198h1v1h-1zM349 202h1v1h-1zM349 206h1v1h-1zM349 214h1v1h-1zM349 217h1v1h-1zM349 229h1v1h-1zM350 89h1v1h-1zM350 96h1v1h-1zM350 102h1v1h-1zM350 107h1v1h-1zM350 109h1v1h-1zM350 117h1v1h-1zM350 119h1v1h-1zM350 121h1v1h-1zM350 129h1v1h-1zM350 135h1v1h-1zM350 136h1v1h-1zM350 139h1v1h-1zM350 148h1v1h-1zM350 149h1v1h-1zM350 162h1v1h-1zM350 165h1v1h-1zM350 166h1v1h-1zM350 168h1v1h-1zM350 169h1v1h-1zM350 170h1v1h-1zM350 173h1v1h-1zM350 175h1v1h-1zM350 177h1v1h-1zM350 178h1v1h-1zM350 179h1v1h-1zM350 180h1v1h-1zM350 181h1v1h-1zM350 183h1v1h-1zM350 185h1v1h-1zM350 188h1v1h-1zM350 191h1v1h-1zM350 193h1v1h-1zM350 201h1v1h-1zM350 204h1v1h-1zM350 206h1v1h-1zM350 211h1v1h-1zM350 218h1v1h-1zM350 236h1v1h-1zM351 82h1v1h-1zM351 89h1v1h-1zM351 91h1v1h-1zM351 92h1v1h-1zM351 94h1v1h-1zM351 96h1v1h-1zM351 97h1v1h-1zM351 99h1v1h-1zM351 102h1v1h-1zM351 105h1v1h-1zM351 108h1v1h-1zM351 119h1v1h-1zM351 139h1v1h-1zM351 148h1v1h-1zM351 153h1v1h-1zM351 157h1v1h-1zM351 158h1v1h-1zM351 159h1v1h-1zM351 160h1v1h-1zM351 161h1v1h-1zM351 162h1v1h-1zM351 164h1v1h-1zM351 166h1v1h-1zM351 167h1v1h-1zM351 168h1v1h-1zM351 169h1v1h-1zM351 170h1v1h-1zM351 172h1v1h-1zM351 174h1v1h-1zM351 175h1v1h-1zM351 176h1v1h-1zM351 177h1v1h-1zM351 178h1v1h-1zM351 179h1v1h-1zM351 181h1v1h-1zM351 183h1v1h-1zM351 184h1v1h-1zM351 185h1v1h-1zM351 186h1v1h-1zM351 188h1v1h-1zM351 191h1v1h-1zM351 193h1v1h-1zM351 195h1v1h-1zM351 200h1v1h-1zM351 204h1v1h-1zM351 207h1v1h-1zM351 221h1v1h-1zM351 223h1v1h-1zM351 225h1v1h-1zM351 229h1v1h-1zM351 236h1v1h-1zM352 76h1v1h-1zM352 84h1v1h-1zM352 87h1v1h-1zM352 89h1v1h-1zM352 101h1v1h-1zM352 103h1v1h-1zM352 105h1v1h-1zM352 115h1v1h-1zM352 116h1v1h-1zM352 120h1v1h-1zM352 128h1v1h-1zM352 144h1v1h-1zM352 145h1v1h-1zM352 146h1v1h-1zM352 148h1v1h-1zM352 150h1v1h-1zM352 154h1v1h-1zM352 155h1v1h-1zM352 156h1v1h-1zM352 159h1v1h-1zM352 164h1v1h-1zM352 166h1v1h-1zM352 167h1v1h-1zM352 168h1v1h-1zM352 173h1v1h-1zM352 174h1v1h-1zM352 175h1v1h-1zM352 176h1v1h-1zM352 178h1v1h-1zM352 179h1v1h-1zM352 180h1v1h-1zM352 181h1v1h-1zM352 182h1v1h-1zM352 183h1v1h-1zM352 184h1v1h-1zM352 185h1v1h-1zM352 186h1v1h-1zM352 187h1v1h-1zM352 189h1v1h-1zM352 196h1v1h-1zM352 200h1v1h-1zM352 201h1v1h-1zM352 203h1v1h-1zM352 204h1v1h-1zM352 208h1v1h-1zM352 214h1v1h-1zM352 227h1v1h-1zM352 235h1v1h-1zM353 89h1v1h-1zM353 91h1v1h-1zM353 95h1v1h-1zM353 96h1v1h-1zM353 100h1v1h-1zM353 105h1v1h-1zM353 119h1v1h-1zM353 121h1v1h-1zM353 122h1v1h-1zM353 128h1v1h-1zM353 130h1v1h-1zM353 131h1v1h-1zM353 132h1v1h-1zM353 135h1v1h-1zM353 137h1v1h-1zM353 139h1v1h-1zM353 145h1v1h-1zM353 149h1v1h-1zM353 151h1v1h-1zM353 155h1v1h-1zM353 156h1v1h-1zM353 158h1v1h-1zM353 161h1v1h-1zM353 162h1v1h-1zM353 166h1v1h-1zM353 167h1v1h-1zM353 168h1v1h-1zM353 169h1v1h-1zM353 172h1v1h-1zM353 173h1v1h-1zM353 174h1v1h-1zM353 176h1v1h-1zM353 177h1v1h-1zM353 178h1v1h-1zM353 180h1v1h-1zM353 181h1v1h-1zM353 182h1v1h-1zM353 183h1v1h-1zM353 184h1v1h-1zM353 185h1v1h-1zM353 186h1v1h-1zM353 188h1v1h-1zM353 189h1v1h-1zM353 192h1v1h-1zM353 193h1v1h-1zM353 194h1v1h-1zM353 196h1v1h-1zM353 199h1v1h-1zM353 200h1v1h-1zM353 204h1v1h-1zM353 210h1v1h-1zM353 211h1v1h-1zM353 213h1v1h-1zM353 222h1v1h-1zM353 225h1v1h-1zM354 83h1v1h-1zM354 91h1v1h-1zM354 92h1v1h-1zM354 97h1v1h-1zM354 110h1v1h-1zM354 111h1v1h-1zM354 116h1v1h-1zM354 118h1v1h-1zM354 120h1v1h-1zM354 124h1v1h-1zM354 128h1v1h-1zM354 133h1v1h-1zM354 146h1v1h-1zM354 147h1v1h-1zM354 148h1v1h-1zM354 151h1v1h-1zM354 154h1v1h-1zM354 159h1v1h-1zM354 163h1v1h-1zM354 165h1v1h-1zM354 166h1v1h-1zM354 167h1v1h-1zM354 168h1v1h-1zM354 170h1v1h-1zM354 171h1v1h-1zM354 172h1v1h-1zM354 173h1v1h-1zM354 175h1v1h-1zM354 176h1v1h-1zM354 177h1v1h-1zM354 178h1v1h-1zM354 179h1v1h-1zM354 181h1v1h-1zM354 183h1v1h-1zM354 184h1v1h-1zM354 186h1v1h-1zM354 187h1v1h-1zM354 191h1v1h-1zM354 195h1v1h-1zM354 197h1v1h-1zM354 200h1v1h-1zM354 203h1v1h-1zM354 206h1v1h-1zM354 210h1v1h-1zM354 217h1v1h-1zM354 226h1v1h-1zM354 235h1v1h-1zM355 92h1v1h-1zM355 94h1v1h-1zM355 107h1v1h-1zM355 109h1v1h-1zM355 110h1v1h-1zM355 114h1v1h-1zM355 130h1v1h-1zM355 132h1v1h-1zM355 133h1v1h-1zM355 135h1v1h-1zM355 140h1v1h-1zM355 147h1v1h-1zM355 151h1v1h-1zM355 152h1v1h-1zM355 154h1v1h-1zM355 156h1v1h-1zM355 157h1v1h-1zM355 158h1v1h-1zM355 159h1v1h-1zM355 161h1v1h-1zM355 165h1v1h-1zM355 166h1v1h-1zM355 167h1v1h-1zM355 168h1v1h-1zM355 169h1v1h-1zM355 171h1v1h-1zM355 172h1v1h-1zM355 173h1v1h-1zM355 175h1v1h-1zM355 177h1v1h-1zM355 178h1v1h-1zM355 179h1v1h-1zM355 180h1v1h-1zM355 181h1v1h-1zM355 184h1v1h-1zM355 187h1v1h-1zM355 188h1v1h-1zM355 189h1v1h-1zM355 191h1v1h-1zM355 192h1v1h-1zM355 193h1v1h-1zM355 194h1v1h-1zM355 199h1v1h-1zM355 203h1v1h-1zM355 204h1v1h-1zM355 205h1v1h-1zM355 210h1v1h-1zM355 213h1v1h-1zM355 219h1v1h-1zM355 221h1v1h-1zM355 222h1v1h-1zM355 223h1v1h-1zM355 236h1v1h-1zM356 91h1v1h-1zM356 94h1v1h-1zM356 99h1v1h-1zM356 100h1v1h-1zM356 101h1v1h-1zM356 123h1v1h-1zM356 128h1v1h-1zM356 142h1v1h-1zM356 144h1v1h-1zM356 147h1v1h-1zM356 149h1v1h-1zM356 156h1v1h-1zM356 160h1v1h-1zM356 164h1v1h-1zM356 168h1v1h-1zM356 169h1v1h-1zM356 170h1v1h-1zM356 171h1v1h-1zM356 172h1v1h-1zM356 173h1v1h-1zM356 174h1v1h-1zM356 175h1v1h-1zM356 177h1v1h-1zM356 178h1v1h-1zM356 179h1v1h-1zM356 181h1v1h-1zM356 182h1v1h-1zM356 184h1v1h-1zM356 185h1v1h-1zM356 187h1v1h-1zM356 191h1v1h-1zM356 194h1v1h-1zM356 195h1v1h-1zM356 196h1v1h-1zM356 201h1v1h-1zM356 208h1v1h-1zM356 213h1v1h-1zM356 214h1v1h-1zM356 217h1v1h-1zM356 220h1v1h-1zM356 225h1v1h-1zM356 235h1v1h-1zM356 236h1v1h-1zM357 89h1v1h-1zM357 91h1v1h-1zM357 92h1v1h-1zM357 93h1v1h-1zM357 94h1v1h-1zM357 99h1v1h-1zM357 101h1v1h-1zM357 103h1v1h-1zM357 105h1v1h-1zM357 123h1v1h-1zM357 127h1v1h-1zM357 130h1v1h-1zM357 135h1v1h-1zM357 141h1v1h-1zM357 142h1v1h-1zM357 145h1v1h-1zM357 150h1v1h-1zM357 153h1v1h-1zM357 156h1v1h-1zM357 158h1v1h-1zM357 161h1v1h-1zM357 166h1v1h-1zM357 167h1v1h-1zM357 168h1v1h-1zM357 169h1v1h-1zM357 170h1v1h-1zM357 171h1v1h-1zM357 172h1v1h-1zM357 173h1v1h-1zM357 174h1v1h-1zM357 175h1v1h-1zM357 176h1v1h-1zM357 177h1v1h-1zM357 178h1v1h-1zM357 179h1v1h-1zM357 180h1v1h-1zM357 181h1v1h-1zM357 183h1v1h-1zM357 184h1v1h-1zM357 185h1v1h-1zM357 187h1v1h-1zM357 188h1v1h-1zM357 189h1v1h-1zM357 190h1v1h-1zM357 191h1v1h-1zM357 193h1v1h-1zM357 197h1v1h-1zM357 198h1v1h-1zM357 199h1v1h-1zM357 207h1v1h-1zM357 208h1v1h-1zM357 209h1v1h-1zM357 216h1v1h-1zM357 222h1v1h-1zM357 235h1v1h-1zM357 236h1v1h-1zM358 82h1v1h-1zM358 87h1v1h-1zM358 91h1v1h-1zM358 92h1v1h-1zM358 95h1v1h-1zM358 98h1v1h-1zM358 101h1v1h-1zM358 103h1v1h-1zM358 107h1v1h-1zM358 108h1v1h-1zM358 116h1v1h-1zM358 117h1v1h-1zM358 121h1v1h-1zM358 124h1v1h-1zM358 130h1v1h-1zM358 131h1v1h-1zM358 132h1v1h-1zM358 134h1v1h-1zM358 138h1v1h-1zM358 141h1v1h-1zM358 142h1v1h-1zM358 143h1v1h-1zM358 145h1v1h-1zM358 148h1v1h-1zM358 150h1v1h-1zM358 153h1v1h-1zM358 157h1v1h-1zM358 158h1v1h-1zM358 160h1v1h-1zM358 162h1v1h-1zM358 165h1v1h-1zM358 166h1v1h-1zM358 168h1v1h-1zM358 169h1v1h-1zM358 170h1v1h-1zM358 171h1v1h-1zM358 172h1v1h-1zM358 173h1v1h-1zM358 174h1v1h-1zM358 175h1v1h-1zM358 177h1v1h-1zM358 178h1v1h-1zM358 179h1v1h-1zM358 180h1v1h-1zM358 181h1v1h-1zM358 182h1v1h-1zM358 183h1v1h-1zM358 184h1v1h-1zM358 187h1v1h-1zM358 190h1v1h-1zM358 192h1v1h-1zM358 193h1v1h-1zM358 194h1v1h-1zM358 196h1v1h-1zM358 197h1v1h-1zM358 201h1v1h-1zM358 205h1v1h-1zM358 209h1v1h-1zM358 216h1v1h-1zM358 223h1v1h-1zM358 224h1v1h-1zM358 225h1v1h-1zM358 228h1v1h-1zM358 232h1v1h-1zM359 83h1v1h-1zM359 87h1v1h-1zM359 99h1v1h-1zM359 101h1v1h-1zM359 102h1v1h-1zM359 103h1v1h-1zM359 107h1v1h-1zM359 109h1v1h-1zM359 120h1v1h-1zM359 129h1v1h-1zM359 130h1v1h-1zM359 132h1v1h-1zM359 134h1v1h-1zM359 141h1v1h-1zM359 147h1v1h-1zM359 154h1v1h-1zM359 157h1v1h-1zM359 158h1v1h-1zM359 160h1v1h-1zM359 161h1v1h-1zM359 162h1v1h-1zM359 163h1v1h-1zM359 164h1v1h-1zM359 166h1v1h-1zM359 167h1v1h-1zM359 168h1v1h-1zM359 169h1v1h-1zM359 170h1v1h-1zM359 171h1v1h-1zM359 172h1v1h-1zM359 173h1v1h-1zM359 175h1v1h-1zM359 176h1v1h-1zM359 177h1v1h-1zM359 178h1v1h-1zM359 179h1v1h-1zM359 180h1v1h-1zM359 181h1v1h-1zM359 182h1v1h-1zM359 184h1v1h-1zM359 186h1v1h-1zM359 187h1v1h-1zM359 188h1v1h-1zM359 191h1v1h-1zM359 192h1v1h-1zM359 199h1v1h-1zM359 201h1v1h-1zM359 204h1v1h-1zM359 208h1v1h-1zM359 225h1v1h-1zM359 229h1v1h-1zM359 232h1v1h-1zM359 235h1v1h-1zM360 86h1v1h-1zM360 90h1v1h-1zM360 91h1v1h-1zM360 94h1v1h-1zM360 95h1v1h-1zM360 101h1v1h-1zM360 104h1v1h-1zM360 106h1v1h-1zM360 110h1v1h-1zM360 127h1v1h-1zM360 142h1v1h-1zM360 145h1v1h-1zM360 146h1v1h-1zM360 152h1v1h-1zM360 153h1v1h-1zM360 155h1v1h-1zM360 156h1v1h-1zM360 158h1v1h-1zM360 161h1v1h-1zM360 163h1v1h-1zM360 164h1v1h-1zM360 167h1v1h-1zM360 170h1v1h-1zM360 171h1v1h-1zM360 172h1v1h-1zM360 173h1v1h-1zM360 176h1v1h-1zM360 177h1v1h-1zM360 178h1v1h-1zM360 180h1v1h-1zM360 182h1v1h-1zM360 183h1v1h-1zM360 184h1v1h-1zM360 185h1v1h-1zM360 186h1v1h-1zM360 187h1v1h-1zM360 188h1v1h-1zM360 189h1v1h-1zM360 190h1v1h-1zM360 191h1v1h-1zM360 192h1v1h-1zM360 193h1v1h-1zM360 194h1v1h-1zM360 196h1v1h-1zM360 203h1v1h-1zM360 208h1v1h-1zM360 209h1v1h-1zM360 212h1v1h-1zM360 213h1v1h-1zM360 214h1v1h-1zM360 215h1v1h-1zM360 216h1v1h-1zM360 217h1v1h-1zM360 219h1v1h-1zM360 228h1v1h-1zM360 232h1v1h-1zM360 235h1v1h-1zM360 236h1v1h-1zM361 86h1v1h-1zM361 87h1v1h-1zM361 88h1v1h-1zM361 92h1v1h-1zM361 104h1v1h-1zM361 106h1v1h-1zM361 114h1v1h-1zM361 117h1v1h-1zM361 126h1v1h-1zM361 131h1v1h-1zM361 136h1v1h-1zM361 144h1v1h-1zM361 146h1v1h-1zM361 152h1v1h-1zM361 153h1v1h-1zM361 157h1v1h-1zM361 159h1v1h-1zM361 160h1v1h-1zM361 162h1v1h-1zM361 163h1v1h-1zM361 164h1v1h-1zM361 165h1v1h-1zM361 166h1v1h-1zM361 167h1v1h-1zM361 169h1v1h-1zM361 170h1v1h-1zM361 171h1v1h-1zM361 174h1v1h-1zM361 176h1v1h-1zM361 178h1v1h-1zM361 179h1v1h-1zM361 180h1v1h-1zM361 181h1v1h-1zM361 182h1v1h-1zM361 185h1v1h-1zM361 186h1v1h-1zM361 187h1v1h-1zM361 190h1v1h-1zM361 191h1v1h-1zM361 193h1v1h-1zM361 194h1v1h-1zM361 197h1v1h-1zM361 198h1v1h-1zM361 200h1v1h-1zM361 204h1v1h-1zM361 207h1v1h-1zM361 214h1v1h-1zM361 218h1v1h-1zM361 221h1v1h-1zM361 227h1v1h-1zM361 236h1v1h-1zM362 86h1v1h-1zM362 88h1v1h-1zM362 91h1v1h-1zM362 94h1v1h-1zM362 97h1v1h-1zM362 101h1v1h-1zM362 104h1v1h-1zM362 105h1v1h-1zM362 115h1v1h-1zM362 129h1v1h-1zM362 132h1v1h-1zM362 134h1v1h-1zM362 148h1v1h-1zM362 151h1v1h-1zM362 154h1v1h-1zM362 157h1v1h-1zM362 162h1v1h-1zM362 166h1v1h-1zM362 167h1v1h-1zM362 168h1v1h-1zM362 169h1v1h-1zM362 172h1v1h-1zM362 173h1v1h-1zM362 174h1v1h-1zM362 176h1v1h-1zM362 177h1v1h-1zM362 178h1v1h-1zM362 179h1v1h-1zM362 180h1v1h-1zM362 181h1v1h-1zM362 182h1v1h-1zM362 183h1v1h-1zM362 184h1v1h-1zM362 185h1v1h-1zM362 186h1v1h-1zM362 187h1v1h-1zM362 188h1v1h-1zM362 190h1v1h-1zM362 191h1v1h-1zM362 193h1v1h-1zM362 194h1v1h-1zM362 196h1v1h-1zM362 197h1v1h-1zM362 200h1v1h-1zM362 201h1v1h-1zM362 203h1v1h-1zM362 204h1v1h-1zM362 209h1v1h-1zM362 214h1v1h-1zM362 221h1v1h-1zM362 224h1v1h-1zM362 229h1v1h-1zM362 235h1v1h-1zM363 83h1v1h-1zM363 88h1v1h-1zM363 98h1v1h-1zM363 102h1v1h-1zM363 107h1v1h-1zM363 125h1v1h-1zM363 131h1v1h-1zM363 137h1v1h-1zM363 143h1v1h-1zM363 150h1v1h-1zM363 152h1v1h-1zM363 154h1v1h-1zM363 156h1v1h-1zM363 157h1v1h-1zM363 159h1v1h-1zM363 160h1v1h-1zM363 163h1v1h-1zM363 164h1v1h-1zM363 168h1v1h-1zM363 171h1v1h-1zM363 172h1v1h-1zM363 175h1v1h-1zM363 176h1v1h-1zM363 179h1v1h-1zM363 181h1v1h-1zM363 182h1v1h-1zM363 185h1v1h-1zM363 186h1v1h-1zM363 187h1v1h-1zM363 188h1v1h-1zM363 190h1v1h-1zM363 191h1v1h-1zM363 200h1v1h-1zM363 201h1v1h-1zM363 207h1v1h-1zM363 208h1v1h-1zM363 209h1v1h-1zM363 210h1v1h-1zM363 214h1v1h-1zM363 215h1v1h-1zM363 233h1v1h-1zM363 235h1v1h-1zM364 82h1v1h-1zM364 83h1v1h-1zM364 84h1v1h-1zM364 86h1v1h-1zM364 88h1v1h-1zM364 92h1v1h-1zM364 95h1v1h-1zM364 97h1v1h-1zM364 98h1v1h-1zM364 102h1v1h-1zM364 106h1v1h-1zM364 108h1v1h-1zM364 124h1v1h-1zM364 127h1v1h-1zM364 128h1v1h-1zM364 132h1v1h-1zM364 140h1v1h-1zM364 142h1v1h-1zM364 143h1v1h-1zM364 144h1v1h-1zM364 151h1v1h-1zM364 153h1v1h-1zM364 154h1v1h-1zM364 159h1v1h-1zM364 160h1v1h-1zM364 162h1v1h-1zM364 165h1v1h-1zM364 167h1v1h-1zM364 168h1v1h-1zM364 172h1v1h-1zM364 173h1v1h-1zM364 174h1v1h-1zM364 177h1v1h-1zM364 180h1v1h-1zM364 181h1v1h-1zM364 185h1v1h-1zM364 186h1v1h-1zM364 187h1v1h-1zM364 188h1v1h-1zM364 189h1v1h-1zM364 190h1v1h-1zM364 191h1v1h-1zM364 193h1v1h-1zM364 194h1v1h-1zM364 198h1v1h-1zM364 201h1v1h-1zM364 203h1v1h-1zM364 205h1v1h-1zM364 208h1v1h-1zM364 209h1v1h-1zM364 219h1v1h-1zM364 236h1v1h-1zM365 86h1v1h-1zM365 87h1v1h-1zM365 92h1v1h-1zM365 93h1v1h-1zM365 95h1v1h-1zM365 103h1v1h-1zM365 108h1v1h-1zM365 109h1v1h-1zM365 112h1v1h-1zM365 118h1v1h-1zM365 124h1v1h-1zM365 128h1v1h-1zM365 132h1v1h-1zM365 137h1v1h-1zM365 138h1v1h-1zM365 139h1v1h-1zM365 145h1v1h-1zM365 157h1v1h-1zM365 158h1v1h-1zM365 160h1v1h-1zM365 166h1v1h-1zM365 167h1v1h-1zM365 168h1v1h-1zM365 169h1v1h-1zM365 171h1v1h-1zM365 172h1v1h-1zM365 173h1v1h-1zM365 174h1v1h-1zM365 175h1v1h-1zM365 176h1v1h-1zM365 178h1v1h-1zM365 181h1v1h-1zM365 182h1v1h-1zM365 183h1v1h-1zM365 184h1v1h-1zM365 185h1v1h-1zM365 186h1v1h-1zM365 187h1v1h-1zM365 189h1v1h-1zM365 190h1v1h-1zM365 191h1v1h-1zM365 192h1v1h-1zM365 193h1v1h-1zM365 196h1v1h-1zM365 197h1v1h-1zM365 198h1v1h-1zM365 200h1v1h-1zM365 202h1v1h-1zM365 207h1v1h-1zM365 208h1v1h-1zM365 210h1v1h-1zM365 214h1v1h-1zM365 215h1v1h-1zM365 221h1v1h-1zM365 224h1v1h-1zM365 226h1v1h-1zM365 236h1v1h-1zM366 110h1v1h-1zM366 115h1v1h-1zM366 121h1v1h-1zM366 122h1v1h-1zM366 141h1v1h-1zM366 145h1v1h-1zM366 151h1v1h-1zM366 152h1v1h-1zM366 154h1v1h-1zM366 158h1v1h-1zM366 160h1v1h-1zM366 161h1v1h-1zM366 164h1v1h-1zM366 165h1v1h-1zM366 166h1v1h-1zM366 169h1v1h-1zM366 170h1v1h-1zM366 172h1v1h-1zM366 173h1v1h-1zM366 174h1v1h-1zM366 175h1v1h-1zM366 176h1v1h-1zM366 177h1v1h-1zM366 178h1v1h-1zM366 179h1v1h-1zM366 180h1v1h-1zM366 183h1v1h-1zM366 184h1v1h-1zM366 187h1v1h-1zM366 190h1v1h-1zM366 194h1v1h-1zM366 195h1v1h-1zM366 211h1v1h-1zM366 213h1v1h-1zM366 214h1v1h-1zM366 216h1v1h-1zM366 223h1v1h-1zM366 225h1v1h-1zM366 228h1v1h-1zM366 229h1v1h-1zM366 234h1v1h-1zM366 235h1v1h-1zM367 79h1v1h-1zM367 80h1v1h-1zM367 83h1v1h-1zM367 87h1v1h-1zM367 92h1v1h-1zM367 100h1v1h-1zM367 101h1v1h-1zM367 102h1v1h-1zM367 124h1v1h-1zM367 127h1v1h-1zM367 135h1v1h-1zM367 151h1v1h-1zM367 152h1v1h-1zM367 159h1v1h-1zM367 162h1v1h-1zM367 163h1v1h-1zM367 165h1v1h-1zM367 171h1v1h-1zM367 174h1v1h-1zM367 175h1v1h-1zM367 176h1v1h-1zM367 181h1v1h-1zM367 183h1v1h-1zM367 184h1v1h-1zM367 185h1v1h-1zM367 188h1v1h-1zM367 190h1v1h-1zM367 192h1v1h-1zM367 193h1v1h-1zM367 194h1v1h-1zM367 195h1v1h-1zM367 197h1v1h-1zM367 205h1v1h-1zM367 210h1v1h-1zM367 212h1v1h-1zM367 214h1v1h-1zM367 228h1v1h-1zM367 235h1v1h-1zM368 81h1v1h-1zM368 86h1v1h-1zM368 89h1v1h-1zM368 93h1v1h-1zM368 100h1v1h-1zM368 110h1v1h-1zM368 111h1v1h-1zM368 114h1v1h-1zM368 118h1v1h-1zM368 120h1v1h-1zM368 121h1v1h-1zM368 126h1v1h-1zM368 127h1v1h-1zM368 132h1v1h-1zM368 139h1v1h-1zM368 140h1v1h-1zM368 142h1v1h-1zM368 148h1v1h-1zM368 150h1v1h-1zM368 157h1v1h-1zM368 162h1v1h-1zM368 163h1v1h-1zM368 164h1v1h-1zM368 170h1v1h-1zM368 174h1v1h-1zM368 177h1v1h-1zM368 178h1v1h-1zM368 179h1v1h-1zM368 180h1v1h-1zM368 181h1v1h-1zM368 183h1v1h-1zM368 185h1v1h-1zM368 189h1v1h-1zM368 193h1v1h-1zM368 197h1v1h-1zM368 198h1v1h-1zM368 202h1v1h-1zM368 204h1v1h-1zM368 205h1v1h-1zM368 217h1v1h-1zM368 230h1v1h-1zM369 85h1v1h-1zM369 96h1v1h-1zM369 100h1v1h-1zM369 104h1v1h-1zM369 109h1v1h-1zM369 134h1v1h-1zM369 135h1v1h-1zM369 145h1v1h-1zM369 150h1v1h-1zM369 151h1v1h-1zM369 152h1v1h-1zM369 155h1v1h-1zM369 156h1v1h-1zM369 157h1v1h-1zM369 158h1v1h-1zM369 163h1v1h-1zM369 164h1v1h-1zM369 166h1v1h-1zM369 167h1v1h-1zM369 168h1v1h-1zM369 169h1v1h-1zM369 170h1v1h-1zM369 171h1v1h-1zM369 172h1v1h-1zM369 173h1v1h-1zM369 178h1v1h-1zM369 180h1v1h-1zM369 182h1v1h-1zM369 189h1v1h-1zM369 190h1v1h-1zM369 191h1v1h-1zM369 193h1v1h-1zM369 195h1v1h-1zM369 200h1v1h-1zM369 201h1v1h-1zM369 202h1v1h-1zM369 209h1v1h-1zM369 214h1v1h-1zM369 217h1v1h-1zM369 220h1v1h-1zM369 221h1v1h-1zM369 230h1v1h-1zM369 235h1v1h-1zM370 80h1v1h-1zM370 85h1v1h-1zM370 87h1v1h-1zM370 95h1v1h-1zM370 97h1v1h-1zM370 101h1v1h-1zM370 108h1v1h-1zM370 129h1v1h-1zM370 138h1v1h-1zM370 139h1v1h-1zM370 142h1v1h-1zM370 143h1v1h-1zM370 149h1v1h-1zM370 155h1v1h-1zM370 156h1v1h-1zM370 159h1v1h-1zM370 165h1v1h-1zM370 166h1v1h-1zM370 168h1v1h-1zM370 169h1v1h-1zM370 170h1v1h-1zM370 172h1v1h-1zM370 173h1v1h-1zM370 174h1v1h-1zM370 176h1v1h-1zM370 179h1v1h-1zM370 180h1v1h-1zM370 182h1v1h-1zM370 185h1v1h-1zM370 188h1v1h-1zM370 189h1v1h-1zM370 190h1v1h-1zM370 192h1v1h-1zM370 200h1v1h-1zM370 202h1v1h-1zM370 210h1v1h-1zM370 216h1v1h-1zM370 217h1v1h-1zM370 223h1v1h-1zM370 230h1v1h-1zM370 234h1v1h-1zM370 236h1v1h-1zM371 101h1v1h-1zM371 115h1v1h-1zM371 136h1v1h-1zM371 146h1v1h-1zM371 147h1v1h-1zM371 152h1v1h-1zM371 157h1v1h-1zM371 158h1v1h-1zM371 160h1v1h-1zM371 161h1v1h-1zM371 163h1v1h-1zM371 168h1v1h-1zM371 169h1v1h-1zM371 177h1v1h-1zM371 178h1v1h-1zM371 179h1v1h-1zM371 180h1v1h-1zM371 182h1v1h-1zM371 192h1v1h-1zM371 193h1v1h-1zM371 198h1v1h-1zM371 200h1v1h-1zM371 208h1v1h-1zM371 211h1v1h-1zM371 218h1v1h-1zM371 223h1v1h-1zM371 234h1v1h-1zM371 235h1v1h-1zM372 89h1v1h-1zM372 93h1v1h-1zM372 95h1v1h-1zM372 99h1v1h-1zM372 102h1v1h-1zM372 106h1v1h-1zM372 118h1v1h-1zM372 129h1v1h-1zM372 133h1v1h-1zM372 135h1v1h-1zM372 138h1v1h-1zM372 150h1v1h-1zM372 162h1v1h-1zM372 163h1v1h-1zM372 164h1v1h-1zM372 166h1v1h-1zM372 169h1v1h-1zM372 171h1v1h-1zM372 172h1v1h-1zM372 173h1v1h-1zM372 177h1v1h-1zM372 179h1v1h-1zM372 183h1v1h-1zM372 188h1v1h-1zM372 193h1v1h-1zM372 204h1v1h-1zM372 205h1v1h-1zM372 231h1v1h-1zM372 235h1v1h-1zM372 236h1v1h-1zM373 97h1v1h-1zM373 100h1v1h-1zM373 109h1v1h-1zM373 134h1v1h-1zM373 140h1v1h-1zM373 142h1v1h-1zM373 147h1v1h-1zM373 152h1v1h-1zM373 153h1v1h-1zM373 166h1v1h-1zM373 171h1v1h-1zM373 173h1v1h-1zM373 176h1v1h-1zM373 180h1v1h-1zM373 182h1v1h-1zM373 184h1v1h-1zM373 187h1v1h-1zM373 195h1v1h-1zM373 196h1v1h-1zM373 197h1v1h-1zM373 200h1v1h-1zM373 202h1v1h-1zM373 203h1v1h-1zM373 205h1v1h-1zM373 213h1v1h-1zM373 217h1v1h-1zM373 235h1v1h-1zM374 86h1v1h-1zM374 87h1v1h-1zM374 93h1v1h-1zM374 96h1v1h-1zM374 97h1v1h-1zM374 123h1v1h-1zM374 126h1v1h-1zM374 144h1v1h-1zM374 164h1v1h-1zM374 168h1v1h-1zM374 171h1v1h-1zM374 172h1v1h-1zM374 174h1v1h-1zM374 175h1v1h-1zM374 177h1v1h-1zM374 183h1v1h-1zM374 184h1v1h-1zM374 185h1v1h-1zM374 187h1v1h-1zM374 192h1v1h-1zM374 196h1v1h-1zM374 197h1v1h-1zM374 200h1v1h-1zM374 206h1v1h-1zM374 214h1v1h-1zM374 216h1v1h-1zM374 219h1v1h-1zM374 223h1v1h-1zM374 229h1v1h-1zM374 236h1v1h-1zM375 77h1v1h-1zM375 90h1v1h-1zM375 91h1v1h-1zM375 106h1v1h-1zM375 141h1v1h-1zM375 142h1v1h-1zM375 146h1v1h-1zM375 147h1v1h-1zM375 148h1v1h-1zM375 156h1v1h-1zM375 157h1v1h-1zM375 159h1v1h-1zM375 162h1v1h-1zM375 169h1v1h-1zM375 174h1v1h-1zM375 175h1v1h-1zM375 176h1v1h-1zM375 191h1v1h-1zM375 199h1v1h-1zM375 205h1v1h-1zM375 210h1v1h-1zM375 218h1v1h-1zM376 83h1v1h-1zM376 84h1v1h-1zM376 88h1v1h-1zM376 94h1v1h-1zM376 95h1v1h-1zM376 97h1v1h-1zM376 104h1v1h-1zM376 123h1v1h-1zM376 141h1v1h-1zM376 155h1v1h-1zM376 160h1v1h-1zM376 164h1v1h-1zM376 166h1v1h-1zM376 168h1v1h-1zM376 176h1v1h-1zM376 195h1v1h-1zM376 209h1v1h-1zM376 215h1v1h-1zM376 220h1v1h-1zM376 226h1v1h-1zM376 236h1v1h-1zM377 78h1v1h-1zM377 82h1v1h-1zM377 96h1v1h-1zM377 141h1v1h-1zM377 147h1v1h-1zM377 148h1v1h-1zM377 161h1v1h-1zM377 164h1v1h-1zM377 165h1v1h-1zM377 167h1v1h-1zM377 171h1v1h-1zM377 174h1v1h-1zM377 181h1v1h-1zM377 188h1v1h-1zM377 209h1v1h-1zM377 219h1v1h-1zM377 222h1v1h-1zM377 236h1v1h-1zM378 86h1v1h-1zM378 100h1v1h-1zM378 101h1v1h-1zM378 104h1v1h-1zM378 106h1v1h-1zM378 121h1v1h-1zM378 140h1v1h-1zM378 141h1v1h-1zM378 163h1v1h-1zM378 164h1v1h-1zM378 181h1v1h-1zM378 192h1v1h-1zM378 200h1v1h-1zM378 201h1v1h-1zM378 209h1v1h-1zM378 213h1v1h-1zM378 223h1v1h-1zM379 94h1v1h-1zM379 101h1v1h-1zM379 131h1v1h-1zM379 160h1v1h-1zM379 165h1v1h-1zM379 166h1v1h-1zM379 169h1v1h-1zM379 170h1v1h-1zM379 173h1v1h-1zM379 181h1v1h-1zM379 182h1v1h-1zM379 224h1v1h-1zM380 94h1v1h-1zM380 127h1v1h-1zM380 149h1v1h-1zM380 150h1v1h-1zM380 191h1v1h-1zM380 193h1v1h-1zM380 199h1v1h-1zM380 210h1v1h-1zM380 235h1v1h-1zM381 90h1v1h-1zM381 98h1v1h-1zM381 103h1v1h-1zM381 126h1v1h-1zM381 155h1v1h-1zM381 160h1v1h-1zM381 161h1v1h-1zM381 185h1v1h-1zM381 208h1v1h-1zM381 214h1v1h-1zM381 219h1v1h-1zM382 95h1v1h-1zM382 96h1v1h-1zM382 102h1v1h-1zM382 131h1v1h-1zM382 154h1v1h-1zM382 155h1v1h-1zM382 182h1v1h-1zM382 188h1v1h-1zM382 190h1v1h-1zM382 216h1v1h-1zM382 220h1v1h-1zM383 88h1v1h-1zM383 101h1v1h-1zM383 106h1v1h-1zM383 137h1v1h-1zM383 142h1v1h-1zM383 153h1v1h-1zM383 171h1v1h-1zM383 180h1v1h-1zM383 191h1v1h-1zM383 235h1v1h-1zM384 97h1v1h-1zM384 103h1v1h-1zM384 109h1v1h-1zM384 121h1v1h-1zM384 137h1v1h-1zM384 158h1v1h-1zM384 195h1v1h-1zM384 206h1v1h-1zM384 236h1v1h-1zM385 97h1v1h-1zM385 107h1v1h-1zM385 123h1v1h-1zM385 136h1v1h-1zM385 158h1v1h-1zM385 171h1v1h-1zM385 176h1v1h-1zM385 182h1v1h-1zM385 187h1v1h-1zM385 198h1v1h-1zM385 236h1v1h-1zM386 148h1v1h-1zM386 181h1v1h-1zM386 183h1v1h-1zM386 187h1v1h-1zM386 225h1v1h-1zM387 81h1v1h-1zM387 90h1v1h-1zM387 130h1v1h-1zM387 178h1v1h-1zM387 185h1v1h-1zM388 107h1v1h-1zM388 134h1v1h-1zM388 149h1v1h-1zM388 162h1v1h-1zM388 192h1v1h-1zM388 203h1v1h-1zM388 207h1v1h-1zM389 87h1v1h-1zM389 95h1v1h-1zM389 98h1v1h-1zM389 123h1v1h-1zM389 126h1v1h-1zM389 135h1v1h-1zM389 145h1v1h-1zM389 151h1v1h-1zM389 183h1v1h-1zM389 208h1v1h-1zM390 109h1v1h-1zM390 162h1v1h-1zM390 173h1v1h-1zM390 235h1v1h-1zM391 91h1v1h-1zM391 101h1v1h-1zM391 145h1v1h-1zM391 207h1v1h-1zM392 77h1v1h-1zM392 84h1v1h-1zM392 86h1v1h-1zM392 88h1v1h-1zM392 95h1v1h-1zM392 211h1v1h-1zM393 85h1v1h-1zM393 95h1v1h-1zM393 146h1v1h-1zM393 152h1v1h-1zM394 95h1v1h-1zM394 106h1v1h-1zM395 84h1v1h-1zM395 137h1v1h-1zM395 150h1v1h-1zM396 90h1v1h-1zM396 96h1v1h-1zM396 129h1v1h-1zM396 141h1v1h-1zM397 83h1v1h-1zM397 90h1v1h-1zM397 92h1v1h-1zM397 100h1v1h-1zM398 76h1v1h-1zM398 84h1v1h-1zM398 88h1v1h-1zM398 91h1v1h-1zM398 142h1v1h-1zM399 79h1v1h-1zM399 92h1v1h-1zM399 98h1v1h-1zM399 103h1v1h-1zM399 150h1v1h-1zM399 166h1v1h-1zM400 81h1v1h-1zM400 82h1v1h-1zM400 91h1v1h-1zM400 94h1v1h-1zM400 98h1v1h-1zM400 102h1v1h-1zM400 105h1v1h-1zM400 119h1v1h-1zM400 127h1v1h-1zM400 139h1v1h-1zM401 81h1v1h-1zM401 84h1v1h-1zM401 96h1v1h-1zM402 78h1v1h-1zM402 81h1v1h-1zM402 84h1v1h-1zM402 87h1v1h-1zM402 92h1v1h-1zM402 97h1v1h-1zM402 98h1v1h-1zM402 104h1v1h-1zM402 126h1v1h-1zM402 130h1v1h-1zM402 150h1v1h-1zM403 78h1v1h-1zM403 85h1v1h-1zM403 91h1v1h-1zM403 97h1v1h-1zM403 107h1v1h-1zM403 123h1v1h-1zM403 131h1v1h-1zM404 86h1v1h-1zM404 87h1v1h-1zM404 90h1v1h-1zM404 94h1v1h-1zM404 98h1v1h-1zM404 99h1v1h-1zM404 100h1v1h-1zM404 125h1v1h-1zM404 146h1v1h-1zM405 78h1v1h-1zM405 86h1v1h-1zM405 91h1v1h-1zM405 94h1v1h-1zM405 95h1v1h-1zM405 109h1v1h-1zM405 111h1v1h-1zM405 153h1v1h-1zM406 79h1v1h-1zM406 86h1v1h-1zM406 87h1v1h-1zM406 89h1v1h-1zM406 90h1v1h-1zM406 92h1v1h-1zM406 94h1v1h-1zM406 97h1v1h-1zM406 99h1v1h-1zM406 105h1v1h-1zM406 119h1v1h-1zM406 216h1v1h-1zM407 74h1v1h-1zM407 91h1v1h-1zM407 101h1v1h-1zM408 91h1v1h-1zM408 96h1v1h-1zM408 99h1v1h-1zM408 101h1v1h-1zM408 103h1v1h-1zM408 153h1v1h-1zM409 81h1v1h-1zM409 91h1v1h-1zM409 97h1v1h-1zM410 68h1v1h-1zM410 89h1v1h-1zM410 91h1v1h-1zM410 92h1v1h-1zM410 95h1v1h-1zM410 98h1v1h-1zM410 116h1v1h-1zM410 134h1v1h-1zM411 85h1v1h-1zM411 86h1v1h-1zM411 92h1v1h-1zM411 127h1v1h-1zM411 151h1v1h-1zM412 85h1v1h-1zM412 87h1v1h-1zM412 89h1v1h-1zM412 90h1v1h-1zM412 93h1v1h-1zM412 146h1v1h-1zM412 164h1v1h-1zM413 90h1v1h-1zM413 92h1v1h-1zM413 94h1v1h-1zM413 98h1v1h-1zM413 128h1v1h-1zM414 85h1v1h-1zM414 92h1v1h-1zM414 93h1v1h-1zM414 94h1v1h-1zM414 97h1v1h-1zM414 98h1v1h-1zM414 135h1v1h-1zM415 81h1v1h-1zM415 94h1v1h-1zM415 95h1v1h-1zM415 101h1v1h-1zM415 125h1v1h-1zM415 159h1v1h-1zM416 80h1v1h-1zM416 86h1v1h-1zM416 89h1v1h-1zM416 91h1v1h-1zM416 94h1v1h-1zM417 87h1v1h-1zM417 92h1v1h-1zM417 97h1v1h-1zM417 101h1v1h-1zM417 161h1v1h-1zM418 81h1v1h-1zM418 84h1v1h-1zM418 86h1v1h-1zM418 88h1v1h-1zM418 90h1v1h-1zM418 91h1v1h-1zM418 92h1v1h-1zM418 96h1v1h-1zM418 97h1v1h-1zM418 126h1v1h-1zM419 81h1v1h-1zM419 82h1v1h-1zM419 83h1v1h-1zM419 86h1v1h-1zM419 90h1v1h-1zM419 96h1v1h-1zM419 98h1v1h-1zM419 104h1v1h-1zM419 124h1v1h-1zM419 136h1v1h-1zM420 81h1v1h-1zM420 83h1v1h-1zM420 97h1v1h-1zM420 134h1v1h-1zM421 90h1v1h-1zM421 93h1v1h-1zM421 97h1v1h-1zM421 99h1v1h-1zM421 123h1v1h-1zM422 85h1v1h-1zM422 96h1v1h-1zM422 114h1v1h-1zM423 84h1v1h-1zM423 88h1v1h-1zM423 98h1v1h-1zM424 83h1v1h-1zM424 93h1v1h-1zM425 84h1v1h-1zM425 89h1v1h-1zM426 137h1v1h-1zM427 88h1v1h-1zM427 95h1v1h-1zM428 85h1v1h-1zM429 83h1v1h-1zM432 87h1v1h-1zM432 103h1v1h-1zM433 87h1v1h-1zM434 74h1v1h-1zM434 97h1v1h-1zM436 81h1v1h-1z" fill="#222"/>
<text x="2.03" y="27.70" font-family="'Liberation Sans', sans-serif" font-weight="bold" font-size="38.55" textLength="28.13" lengthAdjust="spacingAndGlyphs" fill="#000" xml:space="preserve">A</text>
<path d="M14.3 40L5.5 57H23Z" fill="#000"/>
<path d="M14 56V108M14 175V284.7M13 283.8H245.2M326.3 283.8H502" stroke="#000" stroke-width="2" fill="none"/>
<path d="M501 275.6L518 283.9L501 292.9Z" fill="#000"/>
<text transform="translate(26.80 158.02) rotate(-90)" font-family="'Liberation Sans', sans-serif" font-size="23.80" textLength="44.89" lengthAdjust="spacingAndGlyphs" xml:space="preserve">CD8</text>
<text transform="translate(40.70 165.69) rotate(-90)" font-family="'Liberation Sans', sans-serif" font-size="13.48" textLength="33.18" lengthAdjust="spacingAndGlyphs" xml:space="preserve">FL3-H</text>
<text x="266.68" y="296.80" font-family="'Liberation Sans', sans-serif" font-size="23.94" textLength="44.75" lengthAdjust="spacingAndGlyphs" fill="#000" xml:space="preserve">CD4</text>
<text x="107.36" y="41.40" font-family="'Liberation Sans', sans-serif" font-size="21.67" textLength="146.02" lengthAdjust="spacingAndGlyphs" fill="#000" xml:space="preserve">Rag1-/-Gli3+/+</text>
<text x="333.15" y="41.40" font-family="'Liberation Sans', sans-serif" font-size="21.67" textLength="135.54" lengthAdjust="spacingAndGlyphs" fill="#000" xml:space="preserve">Rag1-/-Gli3-/-</text>
<rect x="67.4" y="57.9" width="211.1" height="179.2" fill="none" stroke="#000" stroke-width="1.8"/>
<path d="M67.4 112.3H278.5M157.2 57.9V237.1" stroke="#000" stroke-width="1.6"/>
<path d="M61.1 236.0H67.4M64.1 222.7H67.4M64.1 214.9H67.4M64.1 209.3H67.4M64.1 205.0H67.4M64.1 201.5H67.4M64.1 198.6H67.4M64.1 196.0H67.4M64.1 193.7H67.4M61.1 191.7H67.4M64.1 178.4H67.4M64.1 170.6H67.4M64.1 165.0H67.4M64.1 160.7H67.4M64.1 157.2H67.4M64.1 154.3H67.4M64.1 151.7H67.4M64.1 149.4H67.4M61.1 147.4H67.4M64.1 134.1H67.4M64.1 126.3H67.4M64.1 120.7H67.4M64.1 116.4H67.4M64.1 112.9H67.4M64.1 110.0H67.4M64.1 107.4H67.4M64.1 105.1H67.4M61.1 103.1H67.4M64.1 89.8H67.4M64.1 82.0H67.4M64.1 76.4H67.4M64.1 72.1H67.4M64.1 68.6H67.4M64.1 65.7H67.4M64.1 63.1H67.4M64.1 60.8H67.4M61.1 58.8H67.4M68.1 237.1V243.6M83.8 237.1V240.6M93.0 237.1V240.6M99.5 237.1V240.6M104.5 237.1V240.6M108.7 237.1V240.6M112.1 237.1V240.6M115.2 237.1V240.6M117.8 237.1V240.6M120.2 237.1V243.6M135.9 237.1V240.6M145.1 237.1V240.6M151.6 237.1V240.6M156.7 237.1V240.6M160.8 237.1V240.6M164.3 237.1V240.6M167.3 237.1V240.6M170.0 237.1V240.6M172.3 237.1V243.6M188.0 237.1V240.6M197.2 237.1V240.6M203.7 237.1V240.6M208.8 237.1V240.6M212.9 237.1V240.6M216.4 237.1V240.6M219.4 237.1V240.6M222.1 237.1V240.6M224.5 237.1V243.6M240.1 237.1V240.6M249.3 237.1V240.6M255.8 237.1V240.6M260.9 237.1V240.6M265.0 237.1V240.6M268.5 237.1V240.6M271.5 237.1V240.6M274.2 237.1V240.6M276.6 237.1V243.6" stroke="#000" stroke-width="1.3"/>
<text x="58.1" y="257" font-family="'Liberation Sans', sans-serif" font-size="12">10<tspan dy="-5.4">0</tspan></text>
<text x="110.2" y="257" font-family="'Liberation Sans', sans-serif" font-size="12">10<tspan dy="-5.4">1</tspan></text>
<text x="162.3" y="257" font-family="'Liberation Sans', sans-serif" font-size="12">10<tspan dy="-5.4">2</tspan></text>
<text x="214.5" y="257" font-family="'Liberation Sans', sans-serif" font-size="12">10<tspan dy="-5.4">3</tspan></text>
<text x="266.6" y="257" font-family="'Liberation Sans', sans-serif" font-size="12">10<tspan dy="-5.4">4</tspan></text>
<text x="154.85" y="268.80" font-family="'Liberation Sans', sans-serif" font-size="10.91" textLength="34.99" lengthAdjust="spacingAndGlyphs" fill="#000" xml:space="preserve">FL1-H</text>
<rect x="298.9" y="57.9" width="211.2" height="179.2" fill="none" stroke="#000" stroke-width="1.8"/>
<path d="M298.9 112.3H510.1M388.4 57.9V237.1" stroke="#000" stroke-width="1.6"/>
<path d="M292.6 236.0H298.9M295.6 222.7H298.9M295.6 214.9H298.9M295.6 209.3H298.9M295.6 205.0H298.9M295.6 201.5H298.9M295.6 198.6H298.9M295.6 196.0H298.9M295.6 193.7H298.9M292.6 191.7H298.9M295.6 178.4H298.9M295.6 170.6H298.9M295.6 165.0H298.9M295.6 160.7H298.9M295.6 157.2H298.9M295.6 154.3H298.9M295.6 151.7H298.9M295.6 149.4H298.9M292.6 147.4H298.9M295.6 134.1H298.9M295.6 126.3H298.9M295.6 120.7H298.9M295.6 116.4H298.9M295.6 112.9H298.9M295.6 110.0H298.9M295.6 107.4H298.9M295.6 105.1H298.9M292.6 103.1H298.9M295.6 89.8H298.9M295.6 82.0H298.9M295.6 76.4H298.9M295.6 72.1H298.9M295.6 68.6H298.9M295.6 65.7H298.9M295.6 63.1H298.9M295.6 60.8H298.9M292.6 58.8H298.9M299.6 237.1V243.6M315.3 237.1V240.6M324.6 237.1V240.6M331.1 237.1V240.6M336.2 237.1V240.6M340.3 237.1V240.6M343.8 237.1V240.6M346.8 237.1V240.6M349.5 237.1V240.6M351.9 237.1V243.6M367.6 237.1V240.6M376.9 237.1V240.6M383.4 237.1V240.6M388.5 237.1V240.6M392.6 237.1V240.6M396.1 237.1V240.6M399.1 237.1V240.6M401.8 237.1V240.6M404.2 237.1V243.6M419.9 237.1V240.6M429.2 237.1V240.6M435.7 237.1V240.6M440.8 237.1V240.6M444.9 237.1V240.6M448.4 237.1V240.6M451.4 237.1V240.6M454.1 237.1V240.6M456.5 237.1V243.6M472.2 237.1V240.6M481.5 237.1V240.6M488.0 237.1V240.6M493.1 237.1V240.6M497.2 237.1V240.6M500.7 237.1V240.6M503.7 237.1V240.6M506.4 237.1V240.6M508.8 237.1V243.6" stroke="#000" stroke-width="1.3"/>
<text x="289.6" y="257" font-family="'Liberation Sans', sans-serif" font-size="12">10<tspan dy="-5.4">0</tspan></text>
<text x="341.9" y="257" font-family="'Liberation Sans', sans-serif" font-size="12">10<tspan dy="-5.4">1</tspan></text>
<text x="394.2" y="257" font-family="'Liberation Sans', sans-serif" font-size="12">10<tspan dy="-5.4">2</tspan></text>
<text x="446.5" y="257" font-family="'Liberation Sans', sans-serif" font-size="12">10<tspan dy="-5.4">3</tspan></text>
<text x="498.8" y="257" font-family="'Liberation Sans', sans-serif" font-size="12">10<tspan dy="-5.4">4</tspan></text>
<text x="386.71" y="268.80" font-family="'Liberation Sans', sans-serif" font-size="10.91" textLength="34.99" lengthAdjust="spacingAndGlyphs" fill="#000" xml:space="preserve">FL1-H</text>
<text transform="translate(56.9 246.0) rotate(-90)" font-family="'Liberation Sans', sans-serif" font-size="12">10<tspan dy="-5.2">0</tspan></text>
<text transform="translate(56.9 201.7) rotate(-90)" font-family="'Liberation Sans', sans-serif" font-size="12">10<tspan dy="-5.2">1</tspan></text>
<text transform="translate(56.9 157.4) rotate(-90)" font-family="'Liberation Sans', sans-serif" font-size="12">10<tspan dy="-5.2">2</tspan></text>
<text transform="translate(56.9 113.1) rotate(-90)" font-family="'Liberation Sans', sans-serif" font-size="12">10<tspan dy="-5.2">3</tspan></text>
<text transform="translate(56.9 68.8) rotate(-90)" font-family="'Liberation Sans', sans-serif" font-size="12">10<tspan dy="-5.2">4</tspan></text>
<path d="M236 147.8V230M194.8 187.1L277.4 189.8M463.8 147.3V230M422 186.7L505.1 190.2" stroke="#000" stroke-width="1.5"/>
<text x="198.16" y="174.30" font-family="'Liberation Sans', sans-serif" font-size="17.16" textLength="34.75" lengthAdjust="spacingAndGlyphs" fill="#000" xml:space="preserve">15.4</text>
<text x="240.41" y="174.30" font-family="'Liberation Sans', sans-serif" font-size="16.92" textLength="37.12" lengthAdjust="spacingAndGlyphs" fill="#000" xml:space="preserve">11.2</text>
<text x="198.57" y="214.70" font-family="'Liberation Sans', sans-serif" font-size="17.35" textLength="34.34" lengthAdjust="spacingAndGlyphs" fill="#000" xml:space="preserve">70.4</text>
<text x="242.07" y="214.70" font-family="'Liberation Sans', sans-serif" font-size="17.35" textLength="10.77" lengthAdjust="spacingAndGlyphs" fill="#000" xml:space="preserve">3</text>
<text x="425.17" y="174.30" font-family="'Liberation Sans', sans-serif" font-size="16.92" textLength="35.79" lengthAdjust="spacingAndGlyphs" fill="#000" xml:space="preserve">11.6</text>
<text x="469.06" y="174.30" font-family="'Liberation Sans', sans-serif" font-size="16.92" textLength="25.73" lengthAdjust="spacingAndGlyphs" fill="#000" xml:space="preserve">5.3</text>
<text x="425.30" y="214.70" font-family="'Liberation Sans', sans-serif" font-size="17.35" textLength="18.32" lengthAdjust="spacingAndGlyphs" fill="#000" xml:space="preserve">81</text>
<text x="468.95" y="214.70" font-family="'Liberation Sans', sans-serif" font-size="17.35" textLength="23.66" lengthAdjust="spacingAndGlyphs" fill="#000" xml:space="preserve">2.1</text>
<text x="1.47" y="348.80" font-family="'Liberation Sans', sans-serif" font-weight="bold" font-size="38.25" textLength="25.51" lengthAdjust="spacingAndGlyphs" fill="#000" xml:space="preserve">B</text>
<text transform="translate(20.60 688.36) rotate(-90)" font-family="'Liberation Sans', sans-serif" font-size="23.59" textLength="278.45" lengthAdjust="spacingAndGlyphs" xml:space="preserve">% of cells in the  live gate</text>
<path d="M75 400.6H478.3M75 440.3H478.3M75 479.9H478.3M75 519.6H478.3M75.4 587.6H480.4M75.4 633.0H480.4M75.4 678.4H480.4" stroke="#acacac" stroke-width="1.1"/>
<path d="M75.4 542.5H480.4" stroke="#7c7c7c" stroke-width="1.3"/>
<rect x="82.40" y="484.80" width="28.80" height="43.20" fill="#343434"/>
<path d="M82.40 528.00V484.80H111.20V528.00" fill="none" stroke="#000" stroke-width="1.2"/>
<rect x="111.20" y="469.90" width="29.60" height="58.10" fill="#9a9a9a"/>
<path d="M111.20 528.00V469.90H140.80V528.00" fill="none" stroke="#000" stroke-width="1.2"/>
<rect x="140.80" y="376.00" width="28.60" height="152.00" fill="#ffffff"/>
<path d="M140.80 528.00V376.00H169.40V528.00" fill="none" stroke="#000" stroke-width="1.2"/>
<rect x="82.40" y="540.00" width="28.80" height="183.80" fill="#343434"/>
<path d="M82.40 540.00V723.80M111.20 540.00V723.80" fill="none" stroke="#000" stroke-width="1.2"/>
<rect x="111.20" y="540.00" width="29.60" height="183.80" fill="#9a9a9a"/>
<path d="M111.20 540.00V723.80M140.80 540.00V723.80" fill="none" stroke="#000" stroke-width="1.2"/>
<rect x="140.80" y="540.00" width="28.60" height="183.80" fill="#ffffff"/>
<path d="M140.80 540.00V723.80M169.40 540.00V723.80" fill="none" stroke="#000" stroke-width="1.2"/>
<rect x="184.40" y="579.06" width="29.00" height="144.74" fill="#343434"/>
<path d="M184.40 723.80V579.06H213.40V723.80" fill="none" stroke="#000" stroke-width="1.2"/>
<rect x="213.40" y="589.87" width="29.00" height="133.93" fill="#9a9a9a"/>
<path d="M213.40 723.80V589.87H242.40V723.80" fill="none" stroke="#000" stroke-width="1.2"/>
<rect x="242.40" y="631.18" width="29.00" height="92.62" fill="#ffffff"/>
<path d="M242.40 723.80V631.18H271.40V723.80" fill="none" stroke="#000" stroke-width="1.2"/>
<rect x="285.10" y="588.96" width="29.00" height="134.84" fill="#343434"/>
<path d="M285.10 723.80V588.96H314.10V723.80" fill="none" stroke="#000" stroke-width="1.2"/>
<rect x="314.10" y="590.05" width="29.00" height="133.75" fill="#9a9a9a"/>
<path d="M314.10 723.80V590.05H343.10V723.80" fill="none" stroke="#000" stroke-width="1.2"/>
<rect x="343.10" y="655.70" width="29.00" height="68.10" fill="#ffffff"/>
<path d="M343.10 723.80V655.70H372.10V723.80" fill="none" stroke="#000" stroke-width="1.2"/>
<rect x="387.40" y="681.94" width="29.00" height="41.86" fill="#343434"/>
<path d="M387.40 723.80V681.94H416.40V723.80" fill="none" stroke="#000" stroke-width="1.2"/>
<rect x="416.40" y="688.66" width="29.00" height="35.14" fill="#9a9a9a"/>
<path d="M416.40 723.80V688.66H445.40V723.80" fill="none" stroke="#000" stroke-width="1.2"/>
<rect x="445.40" y="688.12" width="29.00" height="35.68" fill="#ffffff"/>
<path d="M445.40 723.80V688.12H474.40V723.80" fill="none" stroke="#000" stroke-width="1.2"/>
<path d="M75 361H478.3V528M75 361V528M75.4 542.5V723.8H480.4V542.5" stroke="#7c7c7c" stroke-width="1.3" fill="none"/>
<path d="M69.5 361.0H75M69.5 400.6H75M69.5 440.3H75M69.5 479.9H75M69.5 519.6H75M69.5 542.2H75.4M69.5 587.6H75.4M69.5 633.0H75.4M69.5 678.4H75.4M69.5 723.8H75.4M75.4 723.8V728M176.7 723.8V728M277.9 723.8V728M379.1 723.8V728M480.4 723.8V728" stroke="#7c7c7c" stroke-width="1.1"/>
<path d="M96.50 455.00V514.00M91.75 455.00H101.25M91.75 514.00H101.25" stroke="#000" stroke-width="1.35"/>
<path d="M126.40 460.20V479.80M121.65 460.20H131.15M121.65 479.80H131.15" stroke="#000" stroke-width="1.35"/>
<path d="M155.00 361.00V390.60M150.25 361.00H159.75M150.25 390.60H159.75" stroke="#000" stroke-width="1.35"/>
<path d="M198.90 566.72V592.14M194.15 566.72H203.65M194.15 592.14H203.65" stroke="#000" stroke-width="1.35"/>
<path d="M227.90 589.42V590.32M223.15 589.42H232.65M223.15 590.32H232.65" stroke="#000" stroke-width="1.35"/>
<path d="M256.90 620.29V641.17M252.15 620.29H261.65M252.15 641.17H261.65" stroke="#000" stroke-width="1.35"/>
<path d="M299.60 571.26V607.12M294.85 571.26H304.35M294.85 607.12H304.35" stroke="#000" stroke-width="1.35"/>
<path d="M328.60 579.43V601.22M323.85 579.43H333.35M323.85 601.22H333.35" stroke="#000" stroke-width="1.35"/>
<path d="M357.60 645.71V665.69M352.85 645.71H362.35M352.85 665.69H362.35" stroke="#000" stroke-width="1.35"/>
<path d="M401.90 674.68V689.30M397.15 674.68H406.65M397.15 689.30H406.65" stroke="#000" stroke-width="1.35"/>
<path d="M430.90 683.39V691.11M426.15 683.39H435.65M426.15 691.11H435.65" stroke="#000" stroke-width="1.35"/>
<path d="M459.90 679.76V696.65M455.15 679.76H464.65M455.15 696.65H464.65" stroke="#000" stroke-width="1.35"/>
<text x="45.16" y="366.15" font-family="'Liberation Serif', serif" font-size="17.29" textLength="17.29" lengthAdjust="spacingAndGlyphs" fill="#000" xml:space="preserve">80</text>
<text x="44.95" y="405.80" font-family="'Liberation Serif', serif" font-size="17.56" textLength="17.56" lengthAdjust="spacingAndGlyphs" fill="#000" xml:space="preserve">75</text>
<text x="45.16" y="445.45" font-family="'Liberation Serif', serif" font-size="17.29" textLength="17.29" lengthAdjust="spacingAndGlyphs" fill="#000" xml:space="preserve">70</text>
<text x="45.14" y="485.10" font-family="'Liberation Serif', serif" font-size="17.36" textLength="17.36" lengthAdjust="spacingAndGlyphs" fill="#000" xml:space="preserve">65</text>
<text x="45.16" y="524.75" font-family="'Liberation Serif', serif" font-size="17.29" textLength="17.29" lengthAdjust="spacingAndGlyphs" fill="#000" xml:space="preserve">60</text>
<text x="45.16" y="547.45" font-family="'Liberation Serif', serif" font-size="17.29" textLength="17.29" lengthAdjust="spacingAndGlyphs" fill="#000" xml:space="preserve">20</text>
<text x="45.07" y="592.85" font-family="'Liberation Serif', serif" font-size="17.42" textLength="17.42" lengthAdjust="spacingAndGlyphs" fill="#000" xml:space="preserve">15</text>
<text x="45.16" y="638.25" font-family="'Liberation Serif', serif" font-size="17.29" textLength="17.29" lengthAdjust="spacingAndGlyphs" fill="#000" xml:space="preserve">10</text>
<text x="53.72" y="683.65" font-family="'Liberation Serif', serif" font-size="17.56" textLength="8.78" lengthAdjust="spacingAndGlyphs" fill="#000" xml:space="preserve">5</text>
<text x="53.80" y="729.05" font-family="'Liberation Serif', serif" font-size="17.29" textLength="8.65" lengthAdjust="spacingAndGlyphs" fill="#000" xml:space="preserve">0</text>
<text x="113.70" y="752.20" font-family="'Liberation Serif', serif" font-size="17.10" textLength="23.86" lengthAdjust="spacingAndGlyphs" fill="#000" xml:space="preserve">DN</text>
<text x="197.71" y="752.20" font-family="'Liberation Serif', serif" font-size="16.84" textLength="57.92" lengthAdjust="spacingAndGlyphs" fill="#000" xml:space="preserve">CD8ISP</text>
<text x="317.48" y="752.20" font-family="'Liberation Serif', serif" font-size="17.10" textLength="22.02" lengthAdjust="spacingAndGlyphs" fill="#000" xml:space="preserve">DP</text>
<text x="412.32" y="752.20" font-family="'Liberation Serif', serif" font-size="16.91" textLength="32.12" lengthAdjust="spacingAndGlyphs" fill="#000" xml:space="preserve">CD4</text>
<rect x="338.3" y="361" width="140.8" height="85" fill="#fff" stroke="#000" stroke-width="1.8"/>
<rect x="344" y="374.7" width="14.6" height="14.6" fill="#343434" stroke="#000" stroke-width="1.8"/>
<text x="366.61" y="388.80" font-family="'Liberation Sans', sans-serif" font-size="17.78" textLength="108.97" lengthAdjust="spacingAndGlyphs" fill="#000" xml:space="preserve">Gli3+/+, n=3</text>
<rect x="344" y="396.4" width="14.6" height="14.6" fill="#8e8e8e" stroke="#000" stroke-width="1.8"/>
<text x="366.62" y="410.70" font-family="'Liberation Sans', sans-serif" font-size="17.78" textLength="102.72" lengthAdjust="spacingAndGlyphs" fill="#000" xml:space="preserve">Gli3+/-, n=3</text>
<rect x="344" y="418.1" width="14.6" height="14.6" fill="#ffffff" stroke="#000" stroke-width="1.8"/>
<text x="366.62" y="432.60" font-family="'Liberation Sans', sans-serif" font-size="17.78" textLength="102.75" lengthAdjust="spacingAndGlyphs" fill="#000" xml:space="preserve">Gli3-/-,  n=3</text>
</svg>
</body></html>
